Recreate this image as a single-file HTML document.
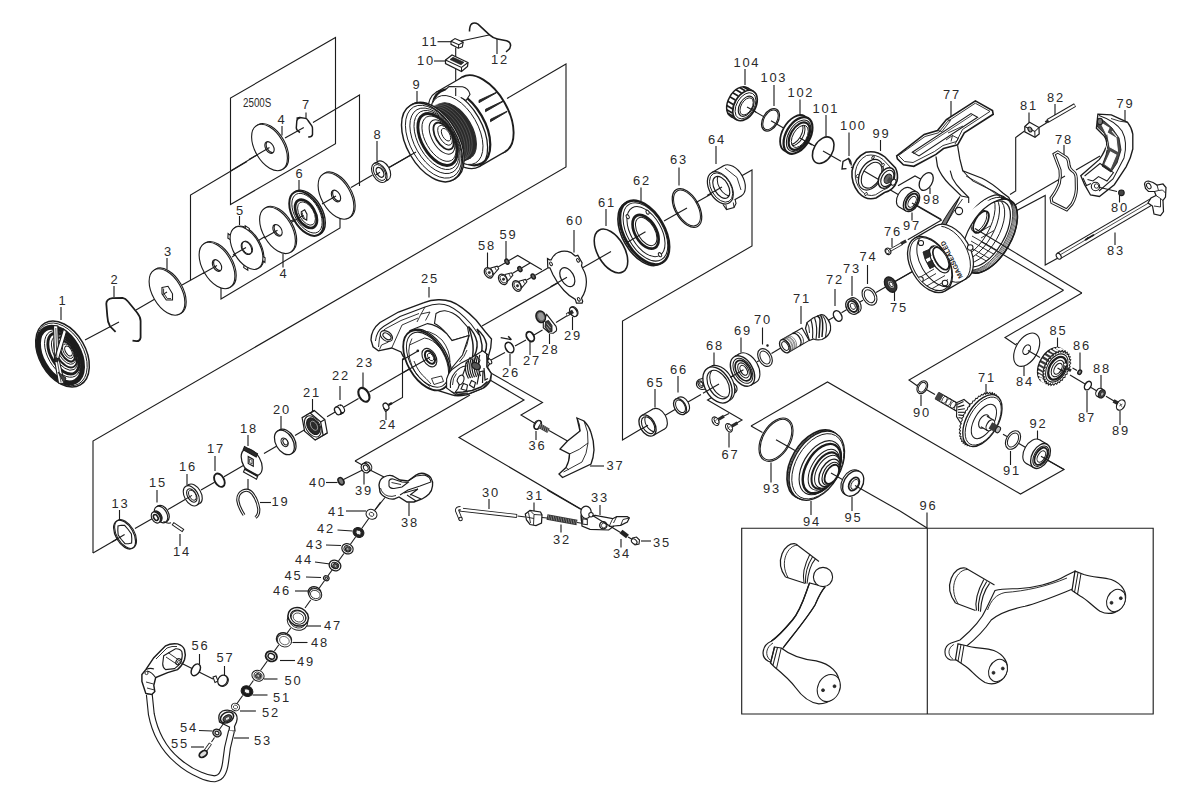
<!DOCTYPE html>
<html><head><meta charset="utf-8"><title>Parts diagram</title>
<style>
html,body{margin:0;padding:0;background:#fff;}
svg{display:block}
text{font-family:"Liberation Sans",sans-serif;fill:#2a2a2a;}
</style></head><body>
<svg width="1200" height="808" viewBox="0 0 1200 808">
<rect width="1200" height="808" fill="#fff"/>
<path d="M335.5,37.5 L335.5,143.8 L230.5,204.5 L230.5,98.0 Z" fill="none" stroke="#1c1c1c" stroke-width="1.12" />
<path d="M190.5,280.0 L190.5,195.0 L247.0,161.5" fill="none" stroke="#1c1c1c" stroke-width="1.12" />
<path d="M313.0,122.5 L359.5,95.0 L359.5,186.0" fill="none" stroke="#1c1c1c" stroke-width="1.12" />
<path d="M221.0,287.5 L221.0,299.0 L340.0,228.0 L340.0,210.0" fill="none" stroke="#1c1c1c" stroke-width="1.12" />
<path d="M93.0,553.0 L93.0,441.0 L566.0,167.0 L566.0,64.0 L507.0,98.5" fill="none" stroke="#1c1c1c" stroke-width="1.12" />
<path d="M482.0,326.0 L567.5,277.5" fill="none" stroke="#1c1c1c" stroke-width="1.12" />
<path d="M736.0,179.0 L752.0,170.0 L752.0,246.0 L622.5,321.0 L622.5,440.0 L641.0,429.0" fill="none" stroke="#1c1c1c" stroke-width="1.12" />
<path d="M490.0,372.5 L542.5,402.5 L521.0,415.0 L536.0,424.0" fill="none" stroke="#1c1c1c" stroke-width="1.12" />
<path d="M490.0,380.0 L524.0,400.0 L459.0,437.5 L582.5,510.0" fill="none" stroke="#1c1c1c" stroke-width="1.12" />
<path d="M355.0,461.0 L470.0,395.0" fill="none" stroke="#1c1c1c" stroke-width="1.12" />
<path d="M355.0,461.0 L364.0,466.0" fill="none" stroke="#1c1c1c" stroke-width="1.12" />
<path d="M1063.5,290.2 L909.0,380.0 L917.5,386.0" fill="none" stroke="#1c1c1c" stroke-width="1.12" />
<path d="M1081.9,293.0 L1005.0,337.5 L1016.0,345.0" fill="none" stroke="#1c1c1c" stroke-width="1.12" />
<path d="M751.0,426.0 L827.5,382.0 L1020.5,494.0 L1064.0,469.5 L1040.0,456.0" fill="none" stroke="#1c1c1c" stroke-width="1.12" />
<path d="M751.0,426.0 L762.5,432.5" fill="none" stroke="#1c1c1c" stroke-width="1.12" />
<path d="M741.7,528.3 L1153.2,528.3 L1153.2,714.0 L741.7,714.0 Z" fill="none" stroke="#1c1c1c" stroke-width="1.12" />
<path d="M927.3,528.3 L927.3,714.0" fill="none" stroke="#1c1c1c" stroke-width="1.12" />
<path d="M1024.5,131.0 L1015.7,137.5 L1015.7,191.0 L1010.0,194.5" fill="none" stroke="#1c1c1c" stroke-width="1.12" />
<path d="M1015.0,205.0 L1065.0,176.0" fill="none" stroke="#1c1c1c" stroke-width="1.12" />
<path d="M1076.0,170.0 L1100.0,156.0" fill="none" stroke="#1c1c1c" stroke-width="1.12" />
<path d="M1016.0,211.0 L1045.2,195.5 L1045.2,265.1 L1058.0,257.9" fill="none" stroke="#1c1c1c" stroke-width="1.12" />
<path d="M391.0,404.0 L402.5,397.5 L402.5,359.0 L417.5,351.0" fill="none" stroke="#1c1c1c" stroke-width="1.12" />
<path d="M713.5,396.5 L707.5,400.0 L742.0,420.0 L736.0,423.5" fill="none" stroke="#1c1c1c" stroke-width="1.12" />
<path d="M724.0,416.0 L729.0,413.5" fill="none" stroke="#1c1c1c" stroke-width="1.12" />
<text x="62.9" y="305.0" font-size="12.9" letter-spacing="1.75" text-anchor="middle">1</text>
<text x="114.9" y="284.0" font-size="12.9" letter-spacing="1.75" text-anchor="middle">2</text>
<text x="168.4" y="256.0" font-size="12.9" letter-spacing="1.75" text-anchor="middle">3</text>
<text x="283.9" y="278.0" font-size="12.9" letter-spacing="1.75" text-anchor="middle">4</text>
<text x="240.4" y="214.5" font-size="12.9" letter-spacing="1.75" text-anchor="middle">5</text>
<text x="299.9" y="178.0" font-size="12.9" letter-spacing="1.75" text-anchor="middle">6</text>
<text x="306.4" y="109.0" font-size="12.9" letter-spacing="1.75" text-anchor="middle">7</text>
<text x="281.9" y="124.0" font-size="12.9" letter-spacing="1.75" text-anchor="middle">4</text>
<text x="377.9" y="138.5" font-size="12.9" letter-spacing="1.75" text-anchor="middle">8</text>
<text x="416.9" y="89.0" font-size="12.9" letter-spacing="1.75" text-anchor="middle">9</text>
<text x="425.9" y="65.0" font-size="12.9" letter-spacing="1.75" text-anchor="middle">10</text>
<text x="429.9" y="46.0" font-size="12.9" letter-spacing="1.75" text-anchor="middle">11</text>
<text x="499.9" y="64.0" font-size="12.9" letter-spacing="1.75" text-anchor="middle">12</text>
<text x="120.4" y="508.0" font-size="12.9" letter-spacing="1.75" text-anchor="middle">13</text>
<text x="181.9" y="556.0" font-size="12.9" letter-spacing="1.75" text-anchor="middle">14</text>
<text x="157.9" y="487.0" font-size="12.9" letter-spacing="1.75" text-anchor="middle">15</text>
<text x="187.9" y="471.0" font-size="12.9" letter-spacing="1.75" text-anchor="middle">16</text>
<text x="215.9" y="453.0" font-size="12.9" letter-spacing="1.75" text-anchor="middle">17</text>
<text x="248.9" y="433.0" font-size="12.9" letter-spacing="1.75" text-anchor="middle">18</text>
<text x="280.4" y="506.0" font-size="12.9" letter-spacing="1.75" text-anchor="middle">19</text>
<text x="281.9" y="414.0" font-size="12.9" letter-spacing="1.75" text-anchor="middle">20</text>
<text x="311.9" y="396.5" font-size="12.9" letter-spacing="1.75" text-anchor="middle">21</text>
<text x="340.9" y="380.0" font-size="12.9" letter-spacing="1.75" text-anchor="middle">22</text>
<text x="364.9" y="367.0" font-size="12.9" letter-spacing="1.75" text-anchor="middle">23</text>
<text x="387.9" y="429.0" font-size="12.9" letter-spacing="1.75" text-anchor="middle">24</text>
<text x="429.9" y="283.0" font-size="12.9" letter-spacing="1.75" text-anchor="middle">25</text>
<text x="510.9" y="377.0" font-size="12.9" letter-spacing="1.75" text-anchor="middle">26</text>
<text x="531.9" y="365.0" font-size="12.9" letter-spacing="1.75" text-anchor="middle">27</text>
<text x="550.4" y="354.0" font-size="12.9" letter-spacing="1.75" text-anchor="middle">28</text>
<text x="572.9" y="340.0" font-size="12.9" letter-spacing="1.75" text-anchor="middle">29</text>
<text x="490.9" y="496.5" font-size="12.9" letter-spacing="1.75" text-anchor="middle">30</text>
<text x="534.9" y="500.0" font-size="12.9" letter-spacing="1.75" text-anchor="middle">31</text>
<text x="561.9" y="544.0" font-size="12.9" letter-spacing="1.75" text-anchor="middle">32</text>
<text x="599.9" y="502.0" font-size="12.9" letter-spacing="1.75" text-anchor="middle">33</text>
<text x="621.9" y="558.0" font-size="12.9" letter-spacing="1.75" text-anchor="middle">34</text>
<text x="661.9" y="546.5" font-size="12.9" letter-spacing="1.75" text-anchor="middle">35</text>
<text x="537.4" y="450.0" font-size="12.9" letter-spacing="1.75" text-anchor="middle">36</text>
<text x="615.4" y="470.0" font-size="12.9" letter-spacing="1.75" text-anchor="middle">37</text>
<text x="409.9" y="527.0" font-size="12.9" letter-spacing="1.75" text-anchor="middle">38</text>
<text x="363.9" y="495.0" font-size="12.9" letter-spacing="1.75" text-anchor="middle">39</text>
<text x="317.9" y="486.5" font-size="12.9" letter-spacing="1.75" text-anchor="middle">40</text>
<text x="336.9" y="516.0" font-size="12.9" letter-spacing="1.75" text-anchor="middle">41</text>
<text x="325.9" y="533.0" font-size="12.9" letter-spacing="1.75" text-anchor="middle">42</text>
<text x="314.9" y="548.5" font-size="12.9" letter-spacing="1.75" text-anchor="middle">43</text>
<text x="303.9" y="564.0" font-size="12.9" letter-spacing="1.75" text-anchor="middle">44</text>
<text x="293.4" y="580.0" font-size="12.9" letter-spacing="1.75" text-anchor="middle">45</text>
<text x="281.9" y="595.0" font-size="12.9" letter-spacing="1.75" text-anchor="middle">46</text>
<text x="332.9" y="630.0" font-size="12.9" letter-spacing="1.75" text-anchor="middle">47</text>
<text x="319.9" y="647.0" font-size="12.9" letter-spacing="1.75" text-anchor="middle">48</text>
<text x="305.9" y="666.0" font-size="12.9" letter-spacing="1.75" text-anchor="middle">49</text>
<text x="293.4" y="685.0" font-size="12.9" letter-spacing="1.75" text-anchor="middle">50</text>
<text x="281.9" y="701.5" font-size="12.9" letter-spacing="1.75" text-anchor="middle">51</text>
<text x="270.9" y="717.0" font-size="12.9" letter-spacing="1.75" text-anchor="middle">52</text>
<text x="262.9" y="745.0" font-size="12.9" letter-spacing="1.75" text-anchor="middle">53</text>
<text x="188.9" y="732.0" font-size="12.9" letter-spacing="1.75" text-anchor="middle">54</text>
<text x="179.9" y="747.5" font-size="12.9" letter-spacing="1.75" text-anchor="middle">55</text>
<text x="200.4" y="650.0" font-size="12.9" letter-spacing="1.75" text-anchor="middle">56</text>
<text x="225.4" y="662.0" font-size="12.9" letter-spacing="1.75" text-anchor="middle">57</text>
<text x="486.9" y="250.0" font-size="12.9" letter-spacing="1.75" text-anchor="middle">58</text>
<text x="508.4" y="239.0" font-size="12.9" letter-spacing="1.75" text-anchor="middle">59</text>
<text x="574.9" y="225.0" font-size="12.9" letter-spacing="1.75" text-anchor="middle">60</text>
<text x="606.9" y="206.5" font-size="12.9" letter-spacing="1.75" text-anchor="middle">61</text>
<text x="641.9" y="185.0" font-size="12.9" letter-spacing="1.75" text-anchor="middle">62</text>
<text x="678.9" y="164.0" font-size="12.9" letter-spacing="1.75" text-anchor="middle">63</text>
<text x="716.9" y="143.5" font-size="12.9" letter-spacing="1.75" text-anchor="middle">64</text>
<text x="655.4" y="387.0" font-size="12.9" letter-spacing="1.75" text-anchor="middle">65</text>
<text x="678.9" y="374.0" font-size="12.9" letter-spacing="1.75" text-anchor="middle">66</text>
<text x="730.4" y="458.5" font-size="12.9" letter-spacing="1.75" text-anchor="middle">67</text>
<text x="714.9" y="350.0" font-size="12.9" letter-spacing="1.75" text-anchor="middle">68</text>
<text x="742.9" y="335.0" font-size="12.9" letter-spacing="1.75" text-anchor="middle">69</text>
<text x="762.9" y="324.0" font-size="12.9" letter-spacing="1.75" text-anchor="middle">70</text>
<text x="801.9" y="303.0" font-size="12.9" letter-spacing="1.75" text-anchor="middle">71</text>
<text x="834.9" y="284.0" font-size="12.9" letter-spacing="1.75" text-anchor="middle">72</text>
<text x="851.9" y="273.0" font-size="12.9" letter-spacing="1.75" text-anchor="middle">73</text>
<text x="868.4" y="261.0" font-size="12.9" letter-spacing="1.75" text-anchor="middle">74</text>
<text x="898.9" y="311.5" font-size="12.9" letter-spacing="1.75" text-anchor="middle">75</text>
<text x="892.9" y="235.5" font-size="12.9" letter-spacing="1.75" text-anchor="middle">76</text>
<text x="951.9" y="99.0" font-size="12.9" letter-spacing="1.75" text-anchor="middle">77</text>
<text x="1063.9" y="143.5" font-size="12.9" letter-spacing="1.75" text-anchor="middle">78</text>
<text x="1125.4" y="108.0" font-size="12.9" letter-spacing="1.75" text-anchor="middle">79</text>
<text x="1119.9" y="212.0" font-size="12.9" letter-spacing="1.75" text-anchor="middle">80</text>
<text x="1028.9" y="110.0" font-size="12.9" letter-spacing="1.75" text-anchor="middle">81</text>
<text x="1055.9" y="101.5" font-size="12.9" letter-spacing="1.75" text-anchor="middle">82</text>
<text x="1115.9" y="255.0" font-size="12.9" letter-spacing="1.75" text-anchor="middle">83</text>
<text x="1024.9" y="386.0" font-size="12.9" letter-spacing="1.75" text-anchor="middle">84</text>
<text x="1058.4" y="335.0" font-size="12.9" letter-spacing="1.75" text-anchor="middle">85</text>
<text x="1081.9" y="349.5" font-size="12.9" letter-spacing="1.75" text-anchor="middle">86</text>
<text x="1086.9" y="422.0" font-size="12.9" letter-spacing="1.75" text-anchor="middle">87</text>
<text x="1101.9" y="373.0" font-size="12.9" letter-spacing="1.75" text-anchor="middle">88</text>
<text x="1120.9" y="435.0" font-size="12.9" letter-spacing="1.75" text-anchor="middle">89</text>
<text x="921.9" y="416.5" font-size="12.9" letter-spacing="1.75" text-anchor="middle">90</text>
<text x="986.9" y="382.0" font-size="12.9" letter-spacing="1.75" text-anchor="middle">71</text>
<text x="1011.9" y="475.0" font-size="12.9" letter-spacing="1.75" text-anchor="middle">91</text>
<text x="1038.4" y="428.0" font-size="12.9" letter-spacing="1.75" text-anchor="middle">92</text>
<text x="771.9" y="493.0" font-size="12.9" letter-spacing="1.75" text-anchor="middle">93</text>
<text x="811.9" y="526.0" font-size="12.9" letter-spacing="1.75" text-anchor="middle">94</text>
<text x="853.4" y="521.5" font-size="12.9" letter-spacing="1.75" text-anchor="middle">95</text>
<text x="928.4" y="510.0" font-size="12.9" letter-spacing="1.75" text-anchor="middle">96</text>
<text x="911.9" y="229.5" font-size="12.9" letter-spacing="1.75" text-anchor="middle">97</text>
<text x="931.9" y="204.0" font-size="12.9" letter-spacing="1.75" text-anchor="middle">98</text>
<text x="881.4" y="138.0" font-size="12.9" letter-spacing="1.75" text-anchor="middle">99</text>
<text x="853.4" y="130.0" font-size="12.9" letter-spacing="1.75" text-anchor="middle">100</text>
<text x="825.9" y="113.0" font-size="12.9" letter-spacing="1.75" text-anchor="middle">101</text>
<text x="800.9" y="97.0" font-size="12.9" letter-spacing="1.75" text-anchor="middle">102</text>
<text x="773.9" y="82.0" font-size="12.9" letter-spacing="1.75" text-anchor="middle">103</text>
<text x="746.9" y="66.5" font-size="12.9" letter-spacing="1.75" text-anchor="middle">104</text>
<text x="243" y="107.3" font-size="12" textLength="28.3" lengthAdjust="spacingAndGlyphs">2500S</text>
<path d="M61.0,307.0 L61.0,320.0" fill="none" stroke="#1c1c1c" stroke-width="1.12" />
<path d="M114.0,286.0 L114.0,297.0" fill="none" stroke="#1c1c1c" stroke-width="1.12" />
<path d="M167.0,258.0 L167.0,269.5" fill="none" stroke="#1c1c1c" stroke-width="1.12" />
<path d="M283.0,254.0 L283.0,267.5" fill="none" stroke="#1c1c1c" stroke-width="1.12" />
<path d="M239.5,216.0 L239.5,225.0" fill="none" stroke="#1c1c1c" stroke-width="1.12" />
<path d="M299.0,180.0 L299.0,191.0" fill="none" stroke="#1c1c1c" stroke-width="1.12" />
<path d="M306.0,112.5 L306.0,119.0" fill="none" stroke="#1c1c1c" stroke-width="1.12" />
<path d="M282.0,126.0 L282.0,135.5" fill="none" stroke="#1c1c1c" stroke-width="1.12" />
<path d="M377.0,141.0 L377.0,161.0" fill="none" stroke="#1c1c1c" stroke-width="1.12" />
<path d="M417.0,91.0 L417.0,104.0" fill="none" stroke="#1c1c1c" stroke-width="1.12" />
<path d="M437.5,41.7 L452.5,41.7" fill="none" stroke="#1c1c1c" stroke-width="1.12" />
<path d="M434.0,61.0 L446.0,61.0" fill="none" stroke="#1c1c1c" stroke-width="1.12" />
<path d="M497.0,39.0 L497.0,54.0" fill="none" stroke="#1c1c1c" stroke-width="1.12" />
<path d="M461.0,41.0 L489.0,35.0" fill="none" stroke="#1c1c1c" stroke-width="1.12" />
<path d="M455.7,47.5 L455.7,96.0" fill="none" stroke="#1c1c1c" stroke-width="1.12" />
<path d="M119.5,510.0 L119.5,521.0" fill="none" stroke="#1c1c1c" stroke-width="1.12" />
<path d="M180.0,534.0 L180.0,546.0" fill="none" stroke="#1c1c1c" stroke-width="1.12" />
<path d="M157.0,490.0 L157.0,502.5" fill="none" stroke="#1c1c1c" stroke-width="1.12" />
<path d="M187.0,474.0 L187.0,485.0" fill="none" stroke="#1c1c1c" stroke-width="1.12" />
<path d="M215.0,456.0 L215.0,471.0" fill="none" stroke="#1c1c1c" stroke-width="1.12" />
<path d="M248.0,435.0 L248.0,446.0" fill="none" stroke="#1c1c1c" stroke-width="1.12" />
<path d="M260.0,502.5 L271.0,502.5" fill="none" stroke="#1c1c1c" stroke-width="1.12" />
<path d="M281.0,416.0 L281.0,429.0" fill="none" stroke="#1c1c1c" stroke-width="1.12" />
<path d="M312.5,399.0 L312.5,411.0" fill="none" stroke="#1c1c1c" stroke-width="1.12" />
<path d="M340.0,386.0 L340.0,400.0" fill="none" stroke="#1c1c1c" stroke-width="1.12" />
<path d="M363.0,372.5 L363.0,387.5" fill="none" stroke="#1c1c1c" stroke-width="1.12" />
<path d="M386.0,411.0 L386.0,420.0" fill="none" stroke="#1c1c1c" stroke-width="1.12" />
<path d="M429.0,287.0 L429.0,297.5" fill="none" stroke="#1c1c1c" stroke-width="1.12" />
<path d="M510.0,354.0 L510.0,366.0" fill="none" stroke="#1c1c1c" stroke-width="1.12" />
<path d="M530.0,341.0 L530.0,355.0" fill="none" stroke="#1c1c1c" stroke-width="1.12" />
<path d="M549.5,334.0 L549.5,344.0" fill="none" stroke="#1c1c1c" stroke-width="1.12" />
<path d="M572.5,317.0 L572.5,330.0" fill="none" stroke="#1c1c1c" stroke-width="1.12" />
<path d="M489.0,499.0 L489.0,509.0" fill="none" stroke="#1c1c1c" stroke-width="1.12" />
<path d="M534.0,502.5 L534.0,511.0" fill="none" stroke="#1c1c1c" stroke-width="1.12" />
<path d="M561.0,524.5 L561.0,532.5" fill="none" stroke="#1c1c1c" stroke-width="1.12" />
<path d="M600.0,505.0 L600.0,515.0" fill="none" stroke="#1c1c1c" stroke-width="1.12" />
<path d="M621.0,539.0 L621.0,547.5" fill="none" stroke="#1c1c1c" stroke-width="1.12" />
<path d="M641.0,541.0 L651.0,541.0" fill="none" stroke="#1c1c1c" stroke-width="1.12" />
<path d="M536.0,431.0 L536.0,440.0" fill="none" stroke="#1c1c1c" stroke-width="1.12" />
<path d="M590.0,466.0 L604.0,466.0" fill="none" stroke="#1c1c1c" stroke-width="1.12" />
<path d="M409.0,502.5 L409.0,516.0" fill="none" stroke="#1c1c1c" stroke-width="1.12" />
<path d="M364.0,472.5 L364.0,484.5" fill="none" stroke="#1c1c1c" stroke-width="1.12" />
<path d="M326.0,482.5 L337.5,482.5" fill="none" stroke="#1c1c1c" stroke-width="1.12" />
<path d="M346.0,511.0 L366.0,511.0" fill="none" stroke="#1c1c1c" stroke-width="1.12" />
<path d="M337.5,530.0 L352.5,531.0" fill="none" stroke="#1c1c1c" stroke-width="1.12" />
<path d="M326.0,545.0 L341.0,545.5" fill="none" stroke="#1c1c1c" stroke-width="1.12" />
<path d="M315.0,562.0 L330.0,564.0" fill="none" stroke="#1c1c1c" stroke-width="1.12" />
<path d="M306.0,577.0 L321.0,577.5" fill="none" stroke="#1c1c1c" stroke-width="1.12" />
<path d="M295.0,591.0 L309.0,591.0" fill="none" stroke="#1c1c1c" stroke-width="1.12" />
<path d="M305.0,626.0 L321.0,626.0" fill="none" stroke="#1c1c1c" stroke-width="1.12" />
<path d="M292.5,642.5 L307.5,642.5" fill="none" stroke="#1c1c1c" stroke-width="1.12" />
<path d="M280.0,660.5 L295.0,660.5" fill="none" stroke="#1c1c1c" stroke-width="1.12" />
<path d="M264.0,679.0 L277.5,679.0" fill="none" stroke="#1c1c1c" stroke-width="1.12" />
<path d="M252.5,695.0 L267.5,695.0" fill="none" stroke="#1c1c1c" stroke-width="1.12" />
<path d="M240.0,711.0 L256.0,711.0" fill="none" stroke="#1c1c1c" stroke-width="1.12" />
<path d="M234.0,738.0 L249.0,738.0" fill="none" stroke="#1c1c1c" stroke-width="1.12" />
<path d="M199.0,730.5 L212.5,731.0" fill="none" stroke="#1c1c1c" stroke-width="1.12" />
<path d="M191.0,747.0 L204.0,747.0" fill="none" stroke="#1c1c1c" stroke-width="1.12" />
<path d="M199.5,654.0 L199.5,664.0" fill="none" stroke="#1c1c1c" stroke-width="1.12" />
<path d="M224.5,666.0 L224.5,677.0" fill="none" stroke="#1c1c1c" stroke-width="1.12" />
<path d="M487.5,252.5 L487.5,269.0" fill="none" stroke="#1c1c1c" stroke-width="1.12" />
<path d="M506.0,241.0 L506.0,259.0" fill="none" stroke="#1c1c1c" stroke-width="1.12" />
<path d="M574.0,230.0 L574.0,252.5" fill="none" stroke="#1c1c1c" stroke-width="1.12" />
<path d="M606.0,209.0 L606.0,226.0" fill="none" stroke="#1c1c1c" stroke-width="1.12" />
<path d="M641.0,187.5 L641.0,201.0" fill="none" stroke="#1c1c1c" stroke-width="1.12" />
<path d="M679.0,167.5 L679.0,185.5" fill="none" stroke="#1c1c1c" stroke-width="1.12" />
<path d="M716.0,146.0 L716.0,164.0" fill="none" stroke="#1c1c1c" stroke-width="1.12" />
<path d="M655.0,389.0 L655.0,407.5" fill="none" stroke="#1c1c1c" stroke-width="1.12" />
<path d="M678.0,376.0 L678.0,392.5" fill="none" stroke="#1c1c1c" stroke-width="1.12" />
<path d="M729.0,432.5 L729.0,447.5" fill="none" stroke="#1c1c1c" stroke-width="1.12" />
<path d="M714.0,352.5 L714.0,366.0" fill="none" stroke="#1c1c1c" stroke-width="1.12" />
<path d="M741.0,337.5 L741.0,352.5" fill="none" stroke="#1c1c1c" stroke-width="1.12" />
<path d="M762.5,327.5 L762.5,344.5" fill="none" stroke="#1c1c1c" stroke-width="1.12" />
<path d="M801.0,306.0 L801.0,324.0" fill="none" stroke="#1c1c1c" stroke-width="1.12" />
<path d="M835.0,289.0 L835.0,306.0" fill="none" stroke="#1c1c1c" stroke-width="1.12" />
<path d="M852.0,276.0 L852.0,296.0" fill="none" stroke="#1c1c1c" stroke-width="1.12" />
<path d="M867.5,265.0 L867.5,284.0" fill="none" stroke="#1c1c1c" stroke-width="1.12" />
<path d="M894.5,291.0 L894.5,301.0" fill="none" stroke="#1c1c1c" stroke-width="1.12" />
<path d="M892.0,238.0 L892.0,247.0" fill="none" stroke="#1c1c1c" stroke-width="1.12" />
<path d="M951.0,101.0 L951.0,124.0" fill="none" stroke="#1c1c1c" stroke-width="1.12" />
<path d="M1064.0,145.0 L1064.0,155.0" fill="none" stroke="#1c1c1c" stroke-width="1.12" />
<path d="M1125.0,110.0 L1125.0,121.0" fill="none" stroke="#1c1c1c" stroke-width="1.12" />
<path d="M1119.5,195.0 L1119.5,202.5" fill="none" stroke="#1c1c1c" stroke-width="1.12" />
<path d="M1029.0,112.5 L1029.0,122.5" fill="none" stroke="#1c1c1c" stroke-width="1.12" />
<path d="M1055.0,104.0 L1055.0,116.0" fill="none" stroke="#1c1c1c" stroke-width="1.12" />
<path d="M1115.0,232.5 L1115.0,245.0" fill="none" stroke="#1c1c1c" stroke-width="1.12" />
<path d="M1024.0,366.0 L1024.0,376.0" fill="none" stroke="#1c1c1c" stroke-width="1.12" />
<path d="M1057.5,337.5 L1057.5,349.0" fill="none" stroke="#1c1c1c" stroke-width="1.12" />
<path d="M1080.0,352.5 L1080.0,370.0" fill="none" stroke="#1c1c1c" stroke-width="1.12" />
<path d="M1087.0,391.0 L1087.0,412.5" fill="none" stroke="#1c1c1c" stroke-width="1.12" />
<path d="M1101.0,375.0 L1101.0,389.0" fill="none" stroke="#1c1c1c" stroke-width="1.12" />
<path d="M1120.0,411.0 L1120.0,425.0" fill="none" stroke="#1c1c1c" stroke-width="1.12" />
<path d="M921.0,395.0 L921.0,406.0" fill="none" stroke="#1c1c1c" stroke-width="1.12" />
<path d="M986.0,384.0 L986.0,394.0" fill="none" stroke="#1c1c1c" stroke-width="1.12" />
<path d="M1010.5,451.0 L1010.5,465.0" fill="none" stroke="#1c1c1c" stroke-width="1.12" />
<path d="M1037.5,430.5 L1037.5,440.0" fill="none" stroke="#1c1c1c" stroke-width="1.12" />
<path d="M771.0,462.5 L771.0,482.5" fill="none" stroke="#1c1c1c" stroke-width="1.12" />
<path d="M811.0,501.0 L811.0,515.0" fill="none" stroke="#1c1c1c" stroke-width="1.12" />
<path d="M852.0,497.0 L852.0,511.0" fill="none" stroke="#1c1c1c" stroke-width="1.12" />
<path d="M927.0,512.5 L927.0,528.0" fill="none" stroke="#1c1c1c" stroke-width="1.12" />
<path d="M912.0,212.5 L912.0,220.5" fill="none" stroke="#1c1c1c" stroke-width="1.12" />
<path d="M930.0,187.5 L930.0,194.0" fill="none" stroke="#1c1c1c" stroke-width="1.12" />
<path d="M880.5,140.0 L880.5,151.0" fill="none" stroke="#1c1c1c" stroke-width="1.12" />
<path d="M849.0,132.5 L849.0,156.0" fill="none" stroke="#1c1c1c" stroke-width="1.12" />
<path d="M826.0,115.0 L826.0,136.0" fill="none" stroke="#1c1c1c" stroke-width="1.12" />
<path d="M800.0,99.5 L800.0,116.0" fill="none" stroke="#1c1c1c" stroke-width="1.12" />
<path d="M774.0,85.0 L774.0,106.0" fill="none" stroke="#1c1c1c" stroke-width="1.12" />
<path d="M745.0,69.0 L745.0,85.0" fill="none" stroke="#1c1c1c" stroke-width="1.12" />
<path d="M85.0,340.0 L119.0,322.0" fill="none" stroke="#1c1c1c" stroke-width="1.12" />
<path d="M136.0,310.0 L167.0,292.0" fill="none" stroke="#1c1c1c" stroke-width="1.12" />
<path d="M182.0,285.0 L217.0,265.5" fill="none" stroke="#1c1c1c" stroke-width="1.12" />
<path d="M232.0,257.0 L246.0,248.0" fill="none" stroke="#1c1c1c" stroke-width="1.12" />
<path d="M257.0,241.5 L276.0,229.5" fill="none" stroke="#1c1c1c" stroke-width="1.12" />
<path d="M290.0,221.5 L306.0,213.0" fill="none" stroke="#1c1c1c" stroke-width="1.12" />
<path d="M322.0,204.0 L336.0,196.0" fill="none" stroke="#1c1c1c" stroke-width="1.12" />
<path d="M351.0,187.5 L372.5,175.0" fill="none" stroke="#1c1c1c" stroke-width="1.12" />
<path d="M389.0,167.5 L432.0,143.0" fill="none" stroke="#1c1c1c" stroke-width="1.12" />
<path d="M230.5,171.0 L269.5,147.5" fill="none" stroke="#1c1c1c" stroke-width="1.12" />
<ellipse cx="62.5" cy="354.0" rx="23.2" ry="35.6" transform="rotate(-30 62.5 354.0)" fill="white" stroke="#1c1c1c" stroke-width="1.4560000000000002"/>
<ellipse cx="61.8" cy="354.4" rx="21.8" ry="34.0" transform="rotate(-30 61.8 354.4)" fill="white" stroke="#1c1c1c" stroke-width="0.8960000000000001"/>
<ellipse cx="60.5" cy="355.1" rx="18.5" ry="30.3" transform="rotate(-30 60.5 355.1)" fill="white" stroke="#1c1c1c" stroke-width="4.928000000000001"/>
<ellipse cx="62.5" cy="354.0" rx="14.6" ry="25.5" transform="rotate(-30 62.5 354.0)" fill="white" stroke="#1c1c1c" stroke-width="0.8960000000000001"/>
<ellipse cx="63.5" cy="353.5" rx="12.6" ry="22.5" transform="rotate(-30 63.5 353.5)" fill="white" stroke="#1c1c1c" stroke-width="2.9120000000000004"/>
<ellipse cx="64.5" cy="353.0" rx="10.4" ry="19.0" transform="rotate(-30 64.5 353.0)" fill="white" stroke="#1c1c1c" stroke-width="0.8960000000000001"/>
<ellipse cx="65.5" cy="352.5" rx="9.0" ry="16.5" transform="rotate(-30 65.5 352.5)" fill="white" stroke="#1c1c1c" stroke-width="1.7920000000000003"/>
<ellipse cx="66.5" cy="352.0" rx="7.4" ry="13.5" transform="rotate(-30 66.5 352.0)" fill="white" stroke="#1c1c1c" stroke-width="0.8960000000000001"/>
<ellipse cx="67.3" cy="351.6" rx="6.0" ry="11.0" transform="rotate(-30 67.3 351.6)" fill="white" stroke="#1c1c1c" stroke-width="2.0160000000000005"/>
<ellipse cx="68.0" cy="351.2" rx="4.4" ry="8.0" transform="rotate(-30 68.0 351.2)" fill="white" stroke="#1c1c1c" stroke-width="0.8960000000000001"/>
<ellipse cx="68.5" cy="351.0" rx="3.0" ry="5.5" transform="rotate(-30 68.5 351.0)" fill="white" stroke="#1c1c1c" stroke-width="1.12"/>
<path d="M53.5,325.5 L57.8,326.0 L58.8,358.0 L64.5,383.5 L58.5,383.0 L54.5,360.0 Z" fill="white" stroke="#1c1c1c" stroke-width="1.12" />
<path d="M63.5,329.0 L66.5,331.5 L58.5,359.0 L55.0,357.0 Z" fill="white" stroke="#1c1c1c" stroke-width="1.12" />
<path d="M55.8,328.0 L56.8,357.0" fill="none" stroke="#1c1c1c" stroke-width="0.784" />
<path d="M57.5,362.0 L61.0,382.0" fill="none" stroke="#1c1c1c" stroke-width="0.784" />
<circle cx="56.5" cy="360.0" r="1.8" fill="#2a2a2a" stroke="#1c1c1c" stroke-width="1.12"/>
<path d="M58,372 L66,378 L64,383 Z" fill="#444" stroke="#1c1c1c" stroke-width="0.8960000000000001" />
<path d="M115.6,331.9 L110,326.3 Q107.5,322 107.3,316 L106.3,303.8 Q106.3,299 112.5,298.1 L122.5,297.8 Q125.5,298.2 128,301.5 L137,312.5 Q140.6,317 140.6,321 L140.6,337.5 Q140,341.3 136.5,341.2 L132.5,340.6" fill="none" stroke="#1c1c1c" stroke-width="1.7920000000000003" />
<ellipse cx="168.3" cy="291.2" rx="14.5" ry="25.5" transform="rotate(-30 168.3 291.2)" fill="white" stroke="#1c1c1c" stroke-width="1.12"/>
<ellipse cx="167.0" cy="292.0" rx="14.5" ry="25.5" transform="rotate(-30 167.0 292.0)" fill="white" stroke="#1c1c1c" stroke-width="1.12"/>
<path d="M162.0,287.5 L168.0,286.3 L172.5,293.8 L172.5,300.0 L166.3,300.0 L162.0,293.8 Z" fill="none" stroke="#1c1c1c" stroke-width="1.12" />
<path d="M163.6,288.6 L163.6,293.0 L167.3,298.6 L171.0,298.6" fill="none" stroke="#1c1c1c" stroke-width="0.8960000000000001" />
<path d="M167.0,292.0 L162.5,294.6" fill="none" stroke="#1c1c1c" stroke-width="1.0080000000000002" />
<ellipse cx="218.3" cy="264.8" rx="14.5" ry="25.5" transform="rotate(-30 218.3 264.8)" fill="white" stroke="#1c1c1c" stroke-width="1.12"/>
<ellipse cx="217.0" cy="265.5" rx="14.5" ry="25.5" transform="rotate(-30 217.0 265.5)" fill="white" stroke="#1c1c1c" stroke-width="1.12"/>
<ellipse cx="217.0" cy="265.5" rx="4.0" ry="6.3" transform="rotate(-30 217.0 265.5)" fill="white" stroke="#1c1c1c" stroke-width="1.12"/>
<clipPath id="c21702655"><ellipse cx="217" cy="265.5" rx="4" ry="6.3" transform="rotate(-30 217 265.5)"/></clipPath>
<g clip-path="url(#c21702655)">
<ellipse cx="218.3" cy="264.8" rx="4.0" ry="6.3" transform="rotate(-30 218.3 264.8)" fill="none" stroke="#1c1c1c" stroke-width="1.12"/>
</g>
<path d="M203.0,273.5 L217.0,265.5" fill="none" stroke="#1c1c1c" stroke-width="1.12" />
<ellipse cx="247.5" cy="247.4" rx="13.2" ry="23.5" transform="rotate(-30 247.5 247.4)" fill="white" stroke="#1c1c1c" stroke-width="1.12"/>
<path d="M262.7,260.7 L264.9,262.4 L265.1,257.8 L262.9,256.6" fill="white" stroke="#1c1c1c" stroke-width="1.12" />
<path d="M248.9,230.8 L249.3,228.4 L245.2,225.7 L245.3,228.4" fill="white" stroke="#1c1c1c" stroke-width="1.12" />
<path d="M230.3,235.3 L228.1,233.6 L227.9,238.2 L230.1,239.4" fill="white" stroke="#1c1c1c" stroke-width="1.12" />
<path d="M244.1,265.2 L243.7,267.6 L247.8,270.3 L247.7,267.6" fill="white" stroke="#1c1c1c" stroke-width="1.12" />
<ellipse cx="246.5" cy="248.0" rx="13.2" ry="23.5" transform="rotate(-30 246.5 248.0)" fill="white" stroke="#1c1c1c" stroke-width="1.12"/>
<ellipse cx="246.5" cy="248.0" rx="4.6" ry="7.0" transform="rotate(-30 246.5 248.0)" fill="white" stroke="#1c1c1c" stroke-width="1.12"/>
<ellipse cx="247.3" cy="247.6" rx="4.6" ry="7.0" transform="rotate(-30 247.3 247.6)" fill="none" stroke="#1c1c1c" stroke-width="0.8960000000000001"/>
<path d="M233.0,255.0 L246.0,247.5" fill="none" stroke="#1c1c1c" stroke-width="1.12" />
<ellipse cx="278.8" cy="229.6" rx="14.5" ry="25.5" transform="rotate(-30 278.8 229.6)" fill="white" stroke="#1c1c1c" stroke-width="1.12"/>
<ellipse cx="277.5" cy="230.3" rx="14.5" ry="25.5" transform="rotate(-30 277.5 230.3)" fill="white" stroke="#1c1c1c" stroke-width="1.12"/>
<ellipse cx="277.5" cy="230.3" rx="4.0" ry="6.3" transform="rotate(-30 277.5 230.3)" fill="white" stroke="#1c1c1c" stroke-width="1.12"/>
<clipPath id="c27752303"><ellipse cx="277.5" cy="230.3" rx="4" ry="6.3" transform="rotate(-30 277.5 230.3)"/></clipPath>
<g clip-path="url(#c27752303)">
<ellipse cx="278.8" cy="229.6" rx="4.0" ry="6.3" transform="rotate(-30 278.8 229.6)" fill="none" stroke="#1c1c1c" stroke-width="1.12"/>
</g>
<path d="M264.0,238.1 L277.5,230.3" fill="none" stroke="#1c1c1c" stroke-width="1.12" />
<ellipse cx="308.1" cy="212.6" rx="14.0" ry="24.5" transform="rotate(-30 308.1 212.6)" fill="white" stroke="#1c1c1c" stroke-width="1.344"/>
<ellipse cx="306.5" cy="213.5" rx="14.0" ry="24.5" transform="rotate(-30 306.5 213.5)" fill="white" stroke="#1c1c1c" stroke-width="2.0160000000000005"/>
<ellipse cx="307.0" cy="213.2" rx="12.2" ry="21.8" transform="rotate(-30 307.0 213.2)" fill="white" stroke="#1c1c1c" stroke-width="0.8960000000000001"/>
<ellipse cx="306.0" cy="213.8" rx="9.0" ry="15.5" transform="rotate(-30 306.0 213.8)" fill="white" stroke="#1c1c1c" stroke-width="2.688"/>
<ellipse cx="306.5" cy="213.5" rx="7.2" ry="12.8" transform="rotate(-30 306.5 213.5)" fill="white" stroke="#1c1c1c" stroke-width="0.8960000000000001"/>
<path d="M301.3,211.7 L304.7,209.7 L307.0,214.2 L306.7,220.0 L303.3,218.3 L301.3,214.2 Z" fill="none" stroke="#1c1c1c" stroke-width="1.12" />
<path d="M302.5,212.5 L302.5,214.8 L304.5,217.8" fill="none" stroke="#1c1c1c" stroke-width="0.784" />
<path d="M292.0,222.0 L303.5,215.3" fill="none" stroke="#1c1c1c" stroke-width="1.12" />
<ellipse cx="337.3" cy="195.2" rx="14.5" ry="25.5" transform="rotate(-30 337.3 195.2)" fill="white" stroke="#1c1c1c" stroke-width="1.12"/>
<ellipse cx="336.0" cy="196.0" rx="14.5" ry="25.5" transform="rotate(-30 336.0 196.0)" fill="white" stroke="#1c1c1c" stroke-width="1.12"/>
<ellipse cx="336.0" cy="196.0" rx="4.0" ry="6.3" transform="rotate(-30 336.0 196.0)" fill="white" stroke="#1c1c1c" stroke-width="1.12"/>
<clipPath id="c33601960"><ellipse cx="336" cy="196" rx="4" ry="6.3" transform="rotate(-30 336 196)"/></clipPath>
<g clip-path="url(#c33601960)">
<ellipse cx="337.3" cy="195.2" rx="4.0" ry="6.3" transform="rotate(-30 337.3 195.2)" fill="none" stroke="#1c1c1c" stroke-width="1.12"/>
</g>
<path d="M322.5,203.8 L336.0,196.0" fill="none" stroke="#1c1c1c" stroke-width="1.12" />
<ellipse cx="270.8" cy="146.8" rx="14.5" ry="25.5" transform="rotate(-30 270.8 146.8)" fill="white" stroke="#1c1c1c" stroke-width="1.12"/>
<ellipse cx="269.5" cy="147.5" rx="14.5" ry="25.5" transform="rotate(-30 269.5 147.5)" fill="white" stroke="#1c1c1c" stroke-width="1.12"/>
<ellipse cx="269.5" cy="147.5" rx="4.0" ry="6.3" transform="rotate(-30 269.5 147.5)" fill="white" stroke="#1c1c1c" stroke-width="1.12"/>
<clipPath id="c26951475"><ellipse cx="269.5" cy="147.5" rx="4" ry="6.3" transform="rotate(-30 269.5 147.5)"/></clipPath>
<g clip-path="url(#c26951475)">
<ellipse cx="270.8" cy="146.8" rx="4.0" ry="6.3" transform="rotate(-30 270.8 146.8)" fill="none" stroke="#1c1c1c" stroke-width="1.12"/>
</g>
<path d="M249.0,159.5 L269.5,147.5" fill="none" stroke="#1c1c1c" stroke-width="1.12" />
<path d="M300,117.5 Q297,118.5 296.8,121 L296.3,128 Q296.5,130.5 300,132.5" fill="none" stroke="#1c1c1c" stroke-width="1.4560000000000002" />
<path d="M296.5,118.3 L300,117.5 L305.5,118.4 Q307,118.8 308,120.5 L311.8,125.8 Q312.6,127 312.5,129 L312.5,134.5 Q312,137.3 308.1,136.9" fill="none" stroke="#1c1c1c" stroke-width="1.4560000000000002" />
<path d="M285.0,138.1 L303.8,127.5" fill="none" stroke="#1c1c1c" stroke-width="1.12" />
<ellipse cx="382.9" cy="170.6" rx="6.6" ry="10.6" transform="rotate(-30 382.9 170.6)" fill="white" stroke="#1c1c1c" stroke-width="1.12"/>
<path d="M374.3,163.5 L377.9,161.4" fill="none" stroke="#1c1c1c" stroke-width="1.12" />
<path d="M384.4,181.9 L388.0,179.8" fill="none" stroke="#1c1c1c" stroke-width="1.12" />
<ellipse cx="379.3" cy="172.7" rx="6.6" ry="10.6" transform="rotate(-30 379.3 172.7)" fill="white" stroke="#1c1c1c" stroke-width="1.12"/>
<ellipse cx="379.6" cy="172.5" rx="5.2" ry="8.7" transform="rotate(-30 379.6 172.5)" fill="white" stroke="#1c1c1c" stroke-width="0.8960000000000001"/>
<ellipse cx="380.0" cy="172.3" rx="3.2" ry="5.4" transform="rotate(-30 380.0 172.3)" fill="white" stroke="#1c1c1c" stroke-width="1.344"/>
<path d="M375.6,175.0 L380.0,172.3" fill="none" stroke="#1c1c1c" stroke-width="1.0080000000000002" />
<ellipse cx="483.7" cy="114.4" rx="24.0" ry="43.0" transform="rotate(-30 483.7 114.4)" fill="white" stroke="#1c1c1c" stroke-width="1.9040000000000001"/>
<path d="M436.2,92.2 L462.2,77.2 L505.2,151.6 L479.2,166.6 Z" fill="white" stroke="none" stroke-width="1.12" />
<path d="M436.2,92.2 L462.2,77.2" fill="none" stroke="#1c1c1c" stroke-width="1.2320000000000002" />
<path d="M479.2,166.6 L505.2,151.6" fill="none" stroke="#1c1c1c" stroke-width="1.2320000000000002" />
<ellipse cx="457.7" cy="129.4" rx="24.0" ry="43.0" transform="rotate(-30 457.7 129.4)" fill="white" stroke="#1c1c1c" stroke-width="1.2320000000000002"/>
<ellipse cx="461.2" cy="127.4" rx="23.5" ry="41.5" transform="rotate(-30 461.2 127.4)" fill="none" stroke="#1c1c1c" stroke-width="2.24"/>
<ellipse cx="456.7" cy="130.0" rx="21.0" ry="38.0" transform="rotate(-30 456.7 130.0)" fill="white" stroke="#1c1c1c" stroke-width="0.8960000000000001"/>
<path d="M479.0,100.3 L496.5,92.2 L496.5,92.8 L479.0,102.7 Z" fill="#2a2a2a" stroke="#1c1c1c" stroke-width="0.8960000000000001" />
<path d="M485.5,109.3 L503.5,100.7 L503.5,101.3 L485.5,111.7 Z" fill="#2a2a2a" stroke="#1c1c1c" stroke-width="0.8960000000000001" />
<path d="M490.5,119.3 L507.0,111.2 L507.0,111.8 L490.5,121.7 Z" fill="#2a2a2a" stroke="#1c1c1c" stroke-width="0.8960000000000001" />
<path d="M444.5,90.5 L449,86.5 L462.5,86.8 Q468.5,88 470,94.5 L466,100.5 L461,97.5" fill="white" stroke="#1c1c1c" stroke-width="1.12" />
<path d="M455.7,88.0 L455.7,96.0" fill="none" stroke="#1c1c1c" stroke-width="1.12" />
<ellipse cx="454.7" cy="131.1" rx="17.5" ry="31.0" transform="rotate(-30 454.7 131.1)" fill="#2a2a2a" stroke="#2a2a2a" stroke-width="1.12"/>
<path d="M416.5,115.7 L439.2,104.3 L470.2,157.9 L447.5,169.3 Z" fill="#2a2a2a" stroke="#2a2a2a" stroke-width="1.12" />
<ellipse cx="434.3" cy="141.2" rx="17.3" ry="30.7" transform="rotate(-30 434.3 141.2)" fill="none" stroke="#777" stroke-width="0.45"/>
<ellipse cx="436.7" cy="139.8" rx="17.3" ry="30.7" transform="rotate(-30 436.7 139.8)" fill="none" stroke="#777" stroke-width="0.45"/>
<ellipse cx="439.0" cy="138.4" rx="17.3" ry="30.7" transform="rotate(-30 439.0 138.4)" fill="none" stroke="#777" stroke-width="0.45"/>
<ellipse cx="441.4" cy="137.1" rx="17.3" ry="30.7" transform="rotate(-30 441.4 137.1)" fill="none" stroke="#777" stroke-width="0.45"/>
<ellipse cx="443.7" cy="135.8" rx="17.3" ry="30.7" transform="rotate(-30 443.7 135.8)" fill="none" stroke="#777" stroke-width="0.45"/>
<ellipse cx="446.0" cy="134.4" rx="17.3" ry="30.7" transform="rotate(-30 446.0 134.4)" fill="none" stroke="#777" stroke-width="0.45"/>
<ellipse cx="448.4" cy="133.1" rx="17.3" ry="30.7" transform="rotate(-30 448.4 133.1)" fill="none" stroke="#777" stroke-width="0.45"/>
<ellipse cx="450.7" cy="131.7" rx="17.3" ry="30.7" transform="rotate(-30 450.7 131.7)" fill="none" stroke="#777" stroke-width="0.45"/>
<ellipse cx="433.6" cy="141.6" rx="25.0" ry="43.0" transform="rotate(-30 433.6 141.6)" fill="white" stroke="#1c1c1c" stroke-width="1.344"/>
<ellipse cx="432.0" cy="142.5" rx="25.0" ry="43.0" transform="rotate(-30 432.0 142.5)" fill="white" stroke="#1c1c1c" stroke-width="1.4560000000000002"/>
<ellipse cx="433.5" cy="141.7" rx="22.8" ry="40.0" transform="rotate(-30 433.5 141.7)" fill="white" stroke="#1c1c1c" stroke-width="0.8960000000000001"/>
<ellipse cx="435.0" cy="140.8" rx="20.3" ry="36.0" transform="rotate(-30 435.0 140.8)" fill="white" stroke="#1c1c1c" stroke-width="0.8960000000000001"/>
<ellipse cx="436.5" cy="140.0" rx="18.0" ry="32.5" transform="rotate(-30 436.5 140.0)" fill="white" stroke="#1c1c1c" stroke-width="0.8960000000000001"/>
<ellipse cx="437.5" cy="139.5" rx="15.6" ry="28.5" transform="rotate(-30 437.5 139.5)" fill="white" stroke="#1c1c1c" stroke-width="2.9120000000000004"/>
<ellipse cx="439.0" cy="138.7" rx="13.4" ry="25.0" transform="rotate(-30 439.0 138.7)" fill="white" stroke="#1c1c1c" stroke-width="0.8960000000000001"/>
<ellipse cx="442.0" cy="136.9" rx="10.0" ry="19.0" transform="rotate(-30 442.0 136.9)" fill="white" stroke="#1c1c1c" stroke-width="1.0080000000000002"/>
<ellipse cx="443.5" cy="136.1" rx="7.8" ry="15.0" transform="rotate(-30 443.5 136.1)" fill="white" stroke="#1c1c1c" stroke-width="1.7920000000000003"/>
<ellipse cx="445.0" cy="135.3" rx="5.6" ry="11.0" transform="rotate(-30 445.0 135.3)" fill="white" stroke="#1c1c1c" stroke-width="0.8960000000000001"/>
<ellipse cx="446.0" cy="134.7" rx="3.6" ry="7.0" transform="rotate(-30 446.0 134.7)" fill="white" stroke="#1c1c1c" stroke-width="0.8960000000000001"/>
<path d="M389.0,167.5 L416.0,152.0" fill="none" stroke="#1c1c1c" stroke-width="1.12" />
<path d="M451.0,41.2 L455.0,38.6 L463.2,42.2 L462.3,46.8 L458.3,48.2 L451.0,44.3 Z" fill="white" stroke="#1c1c1c" stroke-width="1.12" />
<path d="M451.0,41.2 L458.8,44.6 L463.2,42.2" fill="none" stroke="#1c1c1c" stroke-width="1.0080000000000002" />
<path d="M458.8,44.6 L458.3,48.2" fill="none" stroke="#1c1c1c" stroke-width="1.0080000000000002" />
<path d="M445.5,60.0 L452.0,55.0 L468.0,62.5 L467.5,66.5 L461.5,71.5 L445.5,63.5 Z" fill="white" stroke="#1c1c1c" stroke-width="1.2320000000000002" />
<path d="M445.5,60.0 L461.5,67.5 L468.0,62.5" fill="none" stroke="#1c1c1c" stroke-width="1.0080000000000002" />
<path d="M461.5,67.5 L461.5,71.5" fill="none" stroke="#1c1c1c" stroke-width="1.0080000000000002" />
<path d="M450.0,59.5 L453.0,57.3 L464.0,62.3 L461.0,64.8 Z" fill="#2a2a2a" stroke="#1c1c1c" stroke-width="0.672" />
<path d="M469.5,31.5 Q469.5,26 471.5,24 Q474.5,21.8 478,24.2 L489.5,34.8 Q493,38 497.5,39 L506.5,40.8 Q510.5,42 510.6,45.5 Q510.5,49 506,51.8" fill="none" stroke="#1c1c1c" stroke-width="1.568" />
<path d="M93.0,553.0 L124.5,534.7" fill="none" stroke="#1c1c1c" stroke-width="1.12" />
<path d="M135.0,528.6 L152.0,518.7" fill="none" stroke="#1c1c1c" stroke-width="1.12" />
<path d="M168.0,509.4 L192.0,495.4" fill="none" stroke="#1c1c1c" stroke-width="1.12" />
<path d="M201.0,490.1 L214.5,482.3" fill="none" stroke="#1c1c1c" stroke-width="1.12" />
<path d="M224.0,476.8 L251.5,460.8" fill="none" stroke="#1c1c1c" stroke-width="1.12" />
<path d="M264.0,453.5 L285.0,441.3" fill="none" stroke="#1c1c1c" stroke-width="1.12" />
<path d="M295.0,435.4 L305.0,429.6" fill="none" stroke="#1c1c1c" stroke-width="1.12" />
<path d="M327.0,416.8 L336.0,411.6" fill="none" stroke="#1c1c1c" stroke-width="1.12" />
<path d="M343.5,407.2 L358.5,398.5" fill="none" stroke="#1c1c1c" stroke-width="1.12" />
<path d="M369.5,392.1 L430.0,356.9" fill="none" stroke="#1c1c1c" stroke-width="1.12" />
<ellipse cx="124.6" cy="534.6" rx="8.8" ry="15.8" transform="rotate(-30 124.6 534.6)" fill="white" stroke="#1c1c1c" stroke-width="1.2320000000000002"/>
<ellipse cx="125.6" cy="534.0" rx="8.8" ry="15.8" transform="rotate(-30 125.6 534.0)" fill="none" stroke="#1c1c1c" stroke-width="1.0080000000000002"/>
<path d="M131.6,543.1 L131.8,538.7 L131.4,534.0 L128.2,529.5 L124.6,525.4 L121.2,525.3 L118.0,525.9 L117.8,530.3 L118.2,535.0 L121.4,539.5 L125.0,543.6 L128.4,543.7 Z" fill="white" stroke="#1c1c1c" stroke-width="1.12" />
<path d="M112.0,541.9 L124.6,534.6" fill="none" stroke="#1c1c1c" stroke-width="1.12" />
<ellipse cx="162.5" cy="513.6" rx="5.8" ry="9.0" transform="rotate(-30 162.5 513.6)" fill="white" stroke="#1c1c1c" stroke-width="1.2320000000000002"/>
<ellipse cx="161.0" cy="514.5" rx="5.8" ry="9.0" transform="rotate(-30 161.0 514.5)" fill="white" stroke="#1c1c1c" stroke-width="1.12"/>
<ellipse cx="157.5" cy="516.5" rx="4.0" ry="6.0" transform="rotate(-30 157.5 516.5)" fill="#2a2a2a" stroke="#1c1c1c" stroke-width="1.12"/>
<ellipse cx="155.8" cy="517.5" rx="4.0" ry="6.0" transform="rotate(-30 155.8 517.5)" fill="white" stroke="#1c1c1c" stroke-width="1.12"/>
<ellipse cx="155.8" cy="517.5" rx="2.0" ry="3.2" transform="rotate(-30 155.8 517.5)" fill="white" stroke="#1c1c1c" stroke-width="1.568"/>
<path d="M163.5,521.5 Q168,524 171,522.8" fill="none" stroke="#1c1c1c" stroke-width="1.12" />
<path d="M172.3,524.8 L182.2,531.6 L183.7,529.4 L173.8,522.6 Z" fill="white" stroke="#1c1c1c" stroke-width="1.0080000000000002" />
<ellipse cx="194.2" cy="494.1" rx="6.8" ry="11.0" transform="rotate(-30 194.2 494.1)" fill="white" stroke="#1c1c1c" stroke-width="1.12"/>
<ellipse cx="191.3" cy="495.8" rx="6.8" ry="11.0" transform="rotate(-30 191.3 495.8)" fill="white" stroke="#1c1c1c" stroke-width="1.12"/>
<ellipse cx="191.8" cy="495.5" rx="4.3" ry="7.3" transform="rotate(-30 191.8 495.5)" fill="white" stroke="#1c1c1c" stroke-width="1.12"/>
<ellipse cx="192.4" cy="495.2" rx="3.2" ry="5.5" transform="rotate(-30 192.4 495.2)" fill="white" stroke="#1c1c1c" stroke-width="0.8960000000000001"/>
<path d="M186.0,498.9 L192.0,495.4" fill="none" stroke="#1c1c1c" stroke-width="1.0080000000000002" />
<ellipse cx="219.4" cy="480.2" rx="4.6" ry="7.2" transform="rotate(-30 219.4 480.2)" fill="white" stroke="#1c1c1c" stroke-width="1.9040000000000001"/>
<ellipse cx="251.7" cy="462.2" rx="8.8" ry="14.5" transform="rotate(-30 251.7 462.2)" fill="white" stroke="#1c1c1c" stroke-width="1.2320000000000002"/>
<path d="M243.2,449.8 L244.5,446.6 L257.5,453.8 L256.2,457.0 Z" fill="#2a2a2a" stroke="#1c1c1c" stroke-width="1.12" />
<path d="M243.5,472.0 L244.8,468.8 L257.8,476.0 L256.5,479.2 Z" fill="white" stroke="#1c1c1c" stroke-width="1.12" />
<path d="M244.8,468.8 L257.8,476.0" fill="none" stroke="#1c1c1c" stroke-width="2.24" />
<path d="M248.2,456.5 L253.3,459.4 L253.3,466.3 L248.2,463.4 Z" fill="none" stroke="#1c1c1c" stroke-width="1.12" />
<path d="M249.6,458.8 L252.0,460.2 L252.0,464.0 L249.6,462.6 Z" fill="none" stroke="#1c1c1c" stroke-width="0.784" />
<path d="M248.0,479.0 L248.0,489.5" fill="none" stroke="#1c1c1c" stroke-width="1.12" />
<path d="M244,515 Q238.5,506.5 237.8,500.5 Q237.5,493.5 243,491 Q248.5,488.5 252.5,493.5 Q257.5,500 258.8,509 Q259,515 255.5,517.5" fill="none" stroke="#1c1c1c" stroke-width="3.136" />
<path d="M244,515 Q238.5,506.5 237.8,500.5 Q237.5,493.5 243,491 Q248.5,488.5 252.5,493.5 Q257.5,500 258.8,509 Q259,515 255.5,517.5" fill="none" stroke="white" stroke-width="1.0080000000000002" />
<ellipse cx="286.1" cy="441.4" rx="8.6" ry="13.3" transform="rotate(-30 286.1 441.4)" fill="white" stroke="#1c1c1c" stroke-width="1.2320000000000002"/>
<ellipse cx="284.4" cy="442.4" rx="8.6" ry="13.3" transform="rotate(-30 284.4 442.4)" fill="white" stroke="#1c1c1c" stroke-width="1.2320000000000002"/>
<ellipse cx="284.6" cy="442.3" rx="3.1" ry="4.6" transform="rotate(-30 284.6 442.3)" fill="white" stroke="#1c1c1c" stroke-width="1.12"/>
<ellipse cx="285.4" cy="441.9" rx="2.2" ry="3.2" transform="rotate(-30 285.4 441.9)" fill="white" stroke="#1c1c1c" stroke-width="1.0080000000000002"/>
<path d="M327.3,433.0 L324.8,419.5 L314.3,410.6 L306.3,415.2 L308.8,428.7 L319.3,437.6 Z" fill="white" stroke="#1c1c1c" stroke-width="1.2320000000000002" />
<path d="M323.1,435.4 L327.3,433.0" fill="none" stroke="#1c1c1c" stroke-width="1.12" />
<path d="M320.6,421.9 L324.8,419.5" fill="none" stroke="#1c1c1c" stroke-width="1.12" />
<path d="M310.1,413.0 L314.3,410.6" fill="none" stroke="#1c1c1c" stroke-width="1.12" />
<path d="M315.1,440.0 L319.3,437.6" fill="none" stroke="#1c1c1c" stroke-width="1.12" />
<path d="M323.1,435.4 L320.6,421.9 L310.1,413.0 L302.1,417.6 L304.6,431.1 L315.1,440.0 Z" fill="white" stroke="#1c1c1c" stroke-width="1.2320000000000002" />
<ellipse cx="312.8" cy="426.4" rx="7.0" ry="11.5" transform="rotate(-30 312.8 426.4)" fill="white" stroke="#1c1c1c" stroke-width="1.0080000000000002"/>
<ellipse cx="313.2" cy="426.2" rx="5.6" ry="9.0" transform="rotate(-30 313.2 426.2)" fill="#2a2a2a" stroke="#1c1c1c" stroke-width="1.12"/>
<ellipse cx="314.0" cy="425.8" rx="3.0" ry="5.0" transform="rotate(-30 314.0 425.8)" fill="none" stroke="#bbb" stroke-width="0.672"/>
<ellipse cx="341.3" cy="408.8" rx="2.7" ry="4.2" transform="rotate(-30 341.3 408.8)" fill="white" stroke="#1c1c1c" stroke-width="1.12"/>
<path d="M337.2,407.3 L340.8,405.2" fill="none" stroke="#1c1c1c" stroke-width="1.12" />
<path d="M340.2,414.6 L343.8,412.5" fill="none" stroke="#1c1c1c" stroke-width="1.12" />
<path d="M337.6,410.8 L341.3,408.8 L339.2,405.1 L335.5,407.2 Z" fill="white" stroke="none" stroke-width="1.12" />
<ellipse cx="337.7" cy="410.9" rx="2.7" ry="4.2" transform="rotate(-30 337.7 410.9)" fill="white" stroke="#1c1c1c" stroke-width="1.344"/>
<path d="M335.6,407.3 L339.2,405.2" fill="none" stroke="#1c1c1c" stroke-width="1.12" />
<path d="M339.8,414.5 L343.4,412.4" fill="none" stroke="#1c1c1c" stroke-width="1.12" />
<ellipse cx="363.9" cy="394.8" rx="4.8" ry="7.5" transform="rotate(-30 363.9 394.8)" fill="white" stroke="#1c1c1c" stroke-width="2.128"/>
<ellipse cx="386.0" cy="406.5" rx="2.6" ry="3.6" transform="rotate(-30 386.0 406.5)" fill="white" stroke="#1c1c1c" stroke-width="1.2320000000000002"/>
<path d="M388.5,405.0 L392.0,403.0" fill="none" stroke="#1c1c1c" stroke-width="2.4640000000000004" />
<path d="M383.5,408 L385.5,411.5 L388,409.8" fill="none" stroke="#1c1c1c" stroke-width="1.0080000000000002" />
<path d="M491.0,360.0 L505.0,352.5" fill="none" stroke="#1c1c1c" stroke-width="1.12" />
<path d="M515.0,346.0 L526.0,340.0" fill="none" stroke="#1c1c1c" stroke-width="1.12" />
<path d="M534.0,335.0 L542.5,330.0" fill="none" stroke="#1c1c1c" stroke-width="1.12" />
<path d="M556.0,322.5 L567.5,315.5" fill="none" stroke="#1c1c1c" stroke-width="1.12" />
<path d="M371,340 C371,333 375,326.5 380,322.5 L398.5,312 L424,302.7 C433,299 444,299 451,301.5 C458,304 466,310 476,320 L485.5,332 L491.5,339 L490.7,348 L488,357.5 L491,361.5 L487.5,367 L491.3,373.6 L490.7,380.2 C488,385 484,388 482.6,388.3 L466.6,394.9 C460,396 455,396 452,394.9 L436,390 L403,356 L401,352 L391.7,348 L378.4,350.8 L373,346.8 Z" fill="white" stroke="#1c1c1c" stroke-width="1.344" />
<path d="M375.5,341 C376,335 379,329.5 383.5,326.5 L400,316.5 L425,307 C434,303.5 443,303.5 449,306 C456,309 463,315 471,324 L479,335" fill="none" stroke="#1c1c1c" stroke-width="1.0080000000000002" />
<path d="M378.5,347 L379.5,338 Q381,331 386,328.5 L401,320.5 L419,313.5" fill="none" stroke="#1c1c1c" stroke-width="0.8960000000000001" />
<path d="M436,313.5 Q440,310.5 445,310.8 Q453,312 459,317.5 L467.5,327 L469,335.5 L452,340.5 L446.5,333.5 Q440,326 434.5,323.5 Z" fill="white" stroke="#1c1c1c" stroke-width="1.12" />
<path d="M425,307 L421,314 L417,322 M430,312 L425.5,320.5 M421,314 L430,312" fill="none" stroke="#1c1c1c" stroke-width="0.8960000000000001" />
<path d="M468.5,326.5 Q475,333 477,342 Q478,351 472,360 Q474,349 472.5,341 Q471,333 468.5,326.5 Z" fill="white" stroke="#1c1c1c" stroke-width="1.4560000000000002" />
<path d="M477,329 Q485,336 486.5,344 Q487,353 479,362.5 Q482.5,352 482,345 Q481,337 477,329 Z" fill="white" stroke="#1c1c1c" stroke-width="1.4560000000000002" />
<path d="M463,353 Q468,345 469,336 M459.5,362 Q464.5,357 467,350" fill="none" stroke="#1c1c1c" stroke-width="0.8960000000000001" />
<ellipse cx="386.4" cy="336.1" rx="4.6" ry="6.8" transform="rotate(-55 386.4 336.1)" fill="white" stroke="#1c1c1c" stroke-width="1.12"/>
<ellipse cx="387.0" cy="336.3" rx="2.6" ry="4.6" transform="rotate(-55 387.0 336.3)" fill="white" stroke="#1c1c1c" stroke-width="1.12"/>
<path d="M379.5,349.5 L381.5,345 L388.5,342" fill="none" stroke="#1c1c1c" stroke-width="0.8960000000000001" />
<path d="M391.7,348 L402,325 L418,318" fill="none" stroke="#1c1c1c" stroke-width="0.8960000000000001" />
<path d="M410,330.5 L427.5,323.6 Q437,324.5 446.5,333.5 L452,340.5 L469,335.5 L462.5,355 L448.5,372 Z" fill="white" stroke="#1c1c1c" stroke-width="1.12" />
<path d="M416,332 Q430,328 442,340 Q450,350 450,362" fill="none" stroke="#1c1c1c" stroke-width="0.8960000000000001" />
<ellipse cx="428.0" cy="359.4" rx="19.0" ry="33.0" transform="rotate(-30 428.0 359.4)" fill="white" stroke="#1c1c1c" stroke-width="1.2320000000000002"/>
<ellipse cx="426.5" cy="360.2" rx="19.0" ry="33.0" transform="rotate(-30 426.5 360.2)" fill="white" stroke="#1c1c1c" stroke-width="1.7920000000000003"/>
<ellipse cx="427.5" cy="359.7" rx="17.0" ry="30.2" transform="rotate(-30 427.5 359.7)" fill="white" stroke="#1c1c1c" stroke-width="1.0080000000000002"/>
<path d="M412,338.5 Q405.5,350 412,366 Q417,378 430,386.5" fill="none" stroke="#1c1c1c" stroke-width="0.8960000000000001" />
<path d="M409.5,345 L424.5,338 Q433,339 440,348" fill="none" stroke="#1c1c1c" stroke-width="0.8960000000000001" />
<path d="M414,361 Q418,372 426,378.5 L431,384" fill="none" stroke="#1c1c1c" stroke-width="0.8960000000000001" />
<path d="M431.5,378.5 L441.5,376 L443.5,381.5 L434,384.5 Z" fill="none" stroke="#1c1c1c" stroke-width="0.8960000000000001" />
<ellipse cx="429.4" cy="357.6" rx="6.4" ry="10.0" transform="rotate(-30 429.4 357.6)" fill="white" stroke="#1c1c1c" stroke-width="1.12"/>
<ellipse cx="430.0" cy="357.3" rx="4.3" ry="7.0" transform="rotate(-30 430.0 357.3)" fill="white" stroke="#1c1c1c" stroke-width="2.0160000000000005"/>
<ellipse cx="430.6" cy="357.0" rx="2.4" ry="4.2" transform="rotate(-30 430.6 357.0)" fill="white" stroke="#1c1c1c" stroke-width="0.8960000000000001"/>
<path d="M402.5,373.0 L430.0,357.3" fill="none" stroke="#1c1c1c" stroke-width="1.12" />
<circle cx="417.8" cy="350.8" r="0.8" fill="#2a2a2a" stroke="#1c1c1c" stroke-width="1.12"/>
<path d="M402.5,360.0 L417.5,351.2" fill="none" stroke="#1c1c1c" stroke-width="1.12" />
<path d="M446.6,388 L446.6,379 Q449,372 452,369.5 L461.3,362.9 L472,357.5 L482.6,350.8 L488,354.8 L486.7,366.9 L491.3,373.6 L490,380.2 L482.6,388.3 L469.3,393.6 L455.9,394.9 Z" fill="white" stroke="#1c1c1c" stroke-width="1.12" />
<path d="M450.5,388 Q449.5,379 455,372.5 Q460,366.5 466,366 L462,377 L458,388.5 L455,392.5" fill="white" stroke="#1c1c1c" stroke-width="1.12" />
<path d="M452.5,385 Q452.5,378 456.5,373.5" fill="none" stroke="#1c1c1c" stroke-width="0.8960000000000001" />
<path d="M466.5,361.5 Q463.5,370.0 468.5,378.5" fill="none" stroke="#1c1c1c" stroke-width="1.2320000000000002" />
<path d="M468.7,360.4 Q465.7,369.4 470.5,378.1" fill="none" stroke="#1c1c1c" stroke-width="1.2320000000000002" />
<path d="M470.9,359.3 Q467.9,368.8 472.5,377.7" fill="none" stroke="#1c1c1c" stroke-width="1.2320000000000002" />
<path d="M473.1,358.2 Q470.1,368.2 474.5,377.3" fill="none" stroke="#1c1c1c" stroke-width="1.2320000000000002" />
<path d="M475.3,357.1 Q472.3,367.6 476.5,376.9" fill="none" stroke="#1c1c1c" stroke-width="1.2320000000000002" />
<path d="M477.5,356.0 Q474.5,367.0 478.5,376.5" fill="none" stroke="#1c1c1c" stroke-width="1.2320000000000002" />
<path d="M479.7,354.9 Q476.7,366.4 480.5,376.1" fill="none" stroke="#1c1c1c" stroke-width="1.2320000000000002" />
<path d="M466,364 L470,357.5 L474,361.5 L476,355.5 L480,360 L477.5,367.5" fill="none" stroke="#1c1c1c" stroke-width="1.0080000000000002" />
<ellipse cx="476.0" cy="366.0" rx="3.2" ry="4.6" transform="rotate(-60 476.0 366.0)" fill="#555" stroke="#1c1c1c" stroke-width="1.344"/>
<path d="M457,381 Q458,376 461.5,375 Q464.5,375.5 464,379.5 Q463,384 459.5,385 Z" fill="white" stroke="#1c1c1c" stroke-width="1.12" />
<path d="M461,389 L463.5,383.5 L467.5,385 L466.5,390.5 Z M469.5,385 L471.5,380.5 L475.5,382.5 L474,388 Z" fill="white" stroke="#1c1c1c" stroke-width="1.12" />
<path d="M477,384.5 L479.5,372 L483,371 L482.5,383 M484,368 L485,380 L488,378.5" fill="none" stroke="#1c1c1c" stroke-width="1.2320000000000002" />
<path d="M455,392.5 L463,392 L472,390.5 L481,387 L487.5,381.5" fill="none" stroke="#1c1c1c" stroke-width="1.568" />
<path d="M451,391.5 L458,394 L468,393" fill="none" stroke="#1c1c1c" stroke-width="0.8960000000000001" />
<ellipse cx="489.8" cy="361.5" rx="1.7" ry="2.6" transform="rotate(-30 489.8 361.5)" fill="white" stroke="#1c1c1c" stroke-width="1.0080000000000002"/>
<path d="M486.5,354.0 L487.0,366.0" fill="none" stroke="#1c1c1c" stroke-width="1.0080000000000002" />
<ellipse cx="509.5" cy="347.6" rx="3.8" ry="5.6" transform="rotate(-30 509.5 347.6)" fill="none" stroke="#1c1c1c" stroke-width="1.568"/>
<path d="M500.7,337.6 L511.2,339.6" fill="none" stroke="#1c1c1c" stroke-width="1.4560000000000002" />
<path d="M508.2,336.2 L511.4,339.8" fill="none" stroke="#1c1c1c" stroke-width="1.4560000000000002" />
<ellipse cx="530.3" cy="336.6" rx="3.5" ry="5.2" transform="rotate(-30 530.3 336.6)" fill="white" stroke="#1c1c1c" stroke-width="1.9040000000000001"/>
<path d="M546.7,314.3 L556,326.3 Q557,329 556.3,331 L553.3,333.3 L549.3,333 L543.3,327.7 L543.3,322 Z" fill="white" stroke="#1c1c1c" stroke-width="1.12" />
<path d="M545.6,321.5 L548.5,320.5 L552,325.5 L552,331.5 L548.5,332 L545,327 Z" fill="#3a3a3a" stroke="#1c1c1c" stroke-width="0.8960000000000001" />
<path d="M547,323.5 L550.5,328 M546.5,326.5 L549.5,330.5" fill="none" stroke="#ddd" stroke-width="0.672" />
<ellipse cx="540.7" cy="316.7" rx="4.6" ry="5.9" transform="rotate(-20 540.7 316.7)" fill="#6a6a6a" stroke="#1c1c1c" stroke-width="1.568"/>
<ellipse cx="541.1" cy="316.5" rx="3.2" ry="4.3" transform="rotate(-20 541.1 316.5)" fill="#9a9a9a" stroke="#555" stroke-width="0.56"/>
<ellipse cx="574.2" cy="311.3" rx="3.3" ry="5.1" transform="rotate(-30 574.2 311.3)" fill="white" stroke="#1c1c1c" stroke-width="1.12"/>
<ellipse cx="573.4" cy="311.8" rx="3.3" ry="5.1" transform="rotate(-30 573.4 311.8)" fill="white" stroke="#1c1c1c" stroke-width="1.344"/>
<path d="M566.6,314.9 L569.0,313.6" fill="none" stroke="#1c1c1c" stroke-width="3.3600000000000003" />
<path d="M566.9,314.8 L568.8,313.7" fill="none" stroke="white" stroke-width="1.7920000000000003" />
<path d="M568.6,313.8 L573.0,311.4" fill="none" stroke="#2a2a2a" stroke-width="3.8080000000000003" />
<path d="M490.7,268.0 L497.2,266.2 L498.7,268.6 L493.2,275.0 Z" fill="white" stroke="#1c1c1c" stroke-width="1.0080000000000002" />
<path d="M494.7,267.0 L496.3,270.4" fill="none" stroke="#1c1c1c" stroke-width="0.784" />
<ellipse cx="488.7" cy="272.8" rx="4.0" ry="5.6" transform="rotate(-30 488.7 272.8)" fill="white" stroke="#1c1c1c" stroke-width="1.2320000000000002"/>
<ellipse cx="489.2" cy="272.5" rx="2.9" ry="4.2" transform="rotate(-30 489.2 272.5)" fill="white" stroke="#1c1c1c" stroke-width="0.8960000000000001"/>
<circle cx="489.3" cy="272.6" r="1.2" fill="#2a2a2a" stroke="#1c1c1c" stroke-width="0.56"/>
<path d="M504.9,274.6 L511.4,272.8 L512.9,275.2 L507.4,281.6 Z" fill="white" stroke="#1c1c1c" stroke-width="1.0080000000000002" />
<path d="M508.9,273.6 L510.5,277.0" fill="none" stroke="#1c1c1c" stroke-width="0.784" />
<ellipse cx="502.9" cy="279.4" rx="4.0" ry="5.6" transform="rotate(-30 502.9 279.4)" fill="white" stroke="#1c1c1c" stroke-width="1.2320000000000002"/>
<ellipse cx="503.4" cy="279.1" rx="2.9" ry="4.2" transform="rotate(-30 503.4 279.1)" fill="white" stroke="#1c1c1c" stroke-width="0.8960000000000001"/>
<circle cx="503.5" cy="279.2" r="1.2" fill="#2a2a2a" stroke="#1c1c1c" stroke-width="0.56"/>
<path d="M518.9,281.2 L525.4,279.4 L526.9,281.8 L521.4,288.2 Z" fill="white" stroke="#1c1c1c" stroke-width="1.0080000000000002" />
<path d="M522.9,280.2 L524.5,283.6" fill="none" stroke="#1c1c1c" stroke-width="0.784" />
<ellipse cx="516.9" cy="286.0" rx="4.0" ry="5.6" transform="rotate(-30 516.9 286.0)" fill="white" stroke="#1c1c1c" stroke-width="1.2320000000000002"/>
<ellipse cx="517.4" cy="285.7" rx="2.9" ry="4.2" transform="rotate(-30 517.4 285.7)" fill="white" stroke="#1c1c1c" stroke-width="0.8960000000000001"/>
<circle cx="517.5" cy="285.8" r="1.2" fill="#2a2a2a" stroke="#1c1c1c" stroke-width="0.56"/>
<ellipse cx="507.0" cy="261.7" rx="1.8" ry="2.7" transform="rotate(-30 507.0 261.7)" fill="#666" stroke="#1c1c1c" stroke-width="1.4560000000000002"/>
<ellipse cx="519.9" cy="269.1" rx="1.8" ry="2.7" transform="rotate(-30 519.9 269.1)" fill="#666" stroke="#1c1c1c" stroke-width="1.4560000000000002"/>
<ellipse cx="533.2" cy="276.5" rx="1.8" ry="2.7" transform="rotate(-30 533.2 276.5)" fill="#666" stroke="#1c1c1c" stroke-width="1.4560000000000002"/>
<path d="M498.0,267.0 L505.0,263.0" fill="none" stroke="#1c1c1c" stroke-width="1.12" />
<path d="M509.0,260.5 L517.7,255.5 L541.9,269.7" fill="none" stroke="#1c1c1c" stroke-width="1.12" />
<path d="M512.3,273.5 L517.8,270.3" fill="none" stroke="#1c1c1c" stroke-width="1.12" />
<path d="M522.0,267.8 L530.1,262.9" fill="none" stroke="#1c1c1c" stroke-width="1.12" />
<path d="M526.3,280.3 L531.2,277.6" fill="none" stroke="#1c1c1c" stroke-width="1.12" />
<path d="M535.2,275.3 L547.5,268.2" fill="none" stroke="#1c1c1c" stroke-width="1.12" />
<path d="M547.5,258.6 L549.5,259.8 L551.2,259.8 Q553.5,254.5 558.5,252.3 Q564.5,250 571,252.6 L575.3,256.1 L577.8,255.3 L582.1,262.9 L581.5,265.6 L582.7,268.5 Q586.5,275 586.4,282 Q586.3,291 581.5,298.2 L582.7,301.3 L582.1,303.1 L576.5,303.1 L575.3,299.4 Q569,296 564,290.5 Q557,283 553,274.7 L549.9,267.8 L547.8,267.8 Z" fill="white" stroke="#1c1c1c" stroke-width="1.2320000000000002" />
<ellipse cx="551.0" cy="263.8" rx="1.2" ry="2.0" transform="rotate(-30 551.0 263.8)" fill="white" stroke="#1c1c1c" stroke-width="1.0080000000000002"/>
<ellipse cx="578.0" cy="260.3" rx="1.2" ry="2.0" transform="rotate(-30 578.0 260.3)" fill="white" stroke="#1c1c1c" stroke-width="1.0080000000000002"/>
<ellipse cx="578.8" cy="299.3" rx="1.2" ry="2.0" transform="rotate(-30 578.8 299.3)" fill="white" stroke="#1c1c1c" stroke-width="1.0080000000000002"/>
<ellipse cx="567.3" cy="277.1" rx="6.4" ry="10.3" transform="rotate(-30 567.3 277.1)" fill="white" stroke="#1c1c1c" stroke-width="1.2320000000000002"/>
<path d="M550.5,286.8 L567.0,277.3" fill="none" stroke="#1c1c1c" stroke-width="1.12" />
<path d="M582.7,267.8 L611.0,251.5" fill="none" stroke="#1c1c1c" stroke-width="1.12" />
<ellipse cx="611.0" cy="251.0" rx="13.5" ry="24.0" transform="rotate(-30 611.0 251.0)" fill="none" stroke="#1c1c1c" stroke-width="1.568"/>
<ellipse cx="642.5" cy="233.6" rx="20.0" ry="35.0" transform="rotate(-30 642.5 233.6)" fill="white" stroke="#1c1c1c" stroke-width="1.568"/>
<ellipse cx="643.6" cy="233.0" rx="20.0" ry="35.0" transform="rotate(-30 643.6 233.0)" fill="white" stroke="#1c1c1c" stroke-width="0.8960000000000001"/>
<ellipse cx="644.6" cy="232.4" rx="20.0" ry="35.0" transform="rotate(-30 644.6 232.4)" fill="white" stroke="#1c1c1c" stroke-width="2.4640000000000004"/>
<ellipse cx="645.4" cy="231.9" rx="18.0" ry="32.0" transform="rotate(-30 645.4 231.9)" fill="white" stroke="#1c1c1c" stroke-width="1.0080000000000002"/>
<ellipse cx="646.0" cy="231.6" rx="15.2" ry="27.5" transform="rotate(-30 646.0 231.6)" fill="white" stroke="#1c1c1c" stroke-width="1.0080000000000002"/>
<ellipse cx="645.6" cy="231.8" rx="10.6" ry="18.5" transform="rotate(-30 645.6 231.8)" fill="white" stroke="#1c1c1c" stroke-width="2.688"/>
<ellipse cx="646.2" cy="231.5" rx="8.6" ry="15.5" transform="rotate(-30 646.2 231.5)" fill="white" stroke="#1c1c1c" stroke-width="1.0080000000000002"/>
<ellipse cx="627.7" cy="216.7" rx="1.4" ry="2.2" transform="rotate(-30 627.7 216.7)" fill="white" stroke="#1c1c1c" stroke-width="1.0080000000000002"/>
<ellipse cx="647.6" cy="212.2" rx="1.4" ry="2.2" transform="rotate(-30 647.6 212.2)" fill="white" stroke="#1c1c1c" stroke-width="1.0080000000000002"/>
<ellipse cx="660.0" cy="254.7" rx="1.4" ry="2.2" transform="rotate(-30 660.0 254.7)" fill="white" stroke="#1c1c1c" stroke-width="1.0080000000000002"/>
<path d="M627.0,242.6 L645.5,231.8" fill="none" stroke="#1c1c1c" stroke-width="1.12" />
<path d="M664.0,221.0 L687.0,208.0" fill="none" stroke="#1c1c1c" stroke-width="1.12" />
<ellipse cx="687.0" cy="208.0" rx="11.8" ry="21.3" transform="rotate(-30 687.0 208.0)" fill="none" stroke="#1c1c1c" stroke-width="1.2320000000000002"/>
<ellipse cx="687.0" cy="208.0" rx="10.6" ry="19.7" transform="rotate(-30 687.0 208.0)" fill="none" stroke="#1c1c1c" stroke-width="1.0080000000000002"/>
<path d="M696.0,202.5 L722.0,188.0" fill="none" stroke="#1c1c1c" stroke-width="1.12" />
<ellipse cx="732.4" cy="180.9" rx="11.0" ry="17.5" transform="rotate(-30 732.4 180.9)" fill="white" stroke="#1c1c1c" stroke-width="1.12"/>
<path d="M711.5,172.7 L723.7,165.7 L741.2,196.1 L729.0,203.1 Z" fill="white" stroke="none" stroke-width="1.12" />
<path d="M711.5,172.7 L723.7,165.7" fill="none" stroke="#1c1c1c" stroke-width="1.12" />
<path d="M729.0,203.1 L741.2,196.1" fill="none" stroke="#1c1c1c" stroke-width="1.12" />
<path d="M725.0,168.0 L737.0,177.5" fill="none" stroke="#1c1c1c" stroke-width="0.8960000000000001" />
<path d="M737.0,177.5 L741.0,190.0" fill="none" stroke="#1c1c1c" stroke-width="0.8960000000000001" />
<path d="M723,204.5 L726.5,209.5 L734,207.5 L736,203.5 L735,199" fill="white" stroke="#1c1c1c" stroke-width="1.12" />
<path d="M734.0,207.5 L733.3,202.5" fill="none" stroke="#1c1c1c" stroke-width="0.8960000000000001" />
<path d="M726.5,209.5 L726.0,205.0" fill="none" stroke="#1c1c1c" stroke-width="0.8960000000000001" />
<ellipse cx="720.3" cy="187.9" rx="11.0" ry="17.5" transform="rotate(-30 720.3 187.9)" fill="white" stroke="#1c1c1c" stroke-width="1.2320000000000002"/>
<ellipse cx="721.1" cy="187.5" rx="9.8" ry="15.9" transform="rotate(-30 721.1 187.5)" fill="white" stroke="#1c1c1c" stroke-width="0.8960000000000001"/>
<ellipse cx="721.3" cy="187.4" rx="7.0" ry="12.0" transform="rotate(-30 721.3 187.4)" fill="white" stroke="#1c1c1c" stroke-width="1.12"/>
<clipPath id="c64"><ellipse cx="721.3" cy="187.4" rx="7" ry="12" transform="rotate(-30 721.3 187.4)"/></clipPath><g clip-path="url(#c64)">
<ellipse cx="725.8" cy="184.8" rx="7.0" ry="12.0" transform="rotate(-30 725.8 184.8)" fill="none" stroke="#1c1c1c" stroke-width="1.0080000000000002"/>
</g>
<path d="M707.0,195.4 L722.0,187.0" fill="none" stroke="#1c1c1c" stroke-width="1.12" />
<path d="M747.0,106.9 L764.0,116.8" fill="none" stroke="#1c1c1c" stroke-width="1.12" />
<path d="M771.0,120.8 L783.5,128.1" fill="none" stroke="#1c1c1c" stroke-width="1.12" />
<path d="M798.0,136.5 L815.0,146.3" fill="none" stroke="#1c1c1c" stroke-width="1.12" />
<path d="M823.0,150.9 L841.0,161.3" fill="none" stroke="#1c1c1c" stroke-width="1.12" />
<path d="M851.0,167.1 L871.0,178.7" fill="none" stroke="#1c1c1c" stroke-width="1.12" />
<path d="M887.0,188.0 L899.0,194.9" fill="none" stroke="#1c1c1c" stroke-width="1.12" />
<path d="M911.0,201.9 L941.0,219.2" fill="none" stroke="#1c1c1c" stroke-width="1.12" />
<ellipse cx="738.9" cy="102.0" rx="10.5" ry="16.5" transform="rotate(30 738.9 102.0)" fill="white" stroke="#1c1c1c" stroke-width="1.4560000000000002"/>
<path d="M753.2,91.2 L747.2,87.7 L730.7,116.3 L736.8,119.8 Z" fill="white" stroke="none" stroke-width="1.12" />
<path d="M753.2,91.2 L747.2,87.7" fill="none" stroke="#1c1c1c" stroke-width="1.344" />
<path d="M736.8,119.8 L730.7,116.3" fill="none" stroke="#1c1c1c" stroke-width="1.344" />
<path d="M727.9,113.3 L733.4,116.5" fill="none" stroke="#1c1c1c" stroke-width="1.6800000000000002" />
<path d="M726.8,109.8 L732.3,113.0" fill="none" stroke="#1c1c1c" stroke-width="1.6800000000000002" />
<path d="M726.8,105.6 L732.3,108.8" fill="none" stroke="#1c1c1c" stroke-width="1.6800000000000002" />
<path d="M727.8,101.2 L733.3,104.4" fill="none" stroke="#1c1c1c" stroke-width="1.6800000000000002" />
<path d="M729.8,96.8 L735.3,100.0" fill="none" stroke="#1c1c1c" stroke-width="1.6800000000000002" />
<path d="M732.7,92.8 L738.2,96.0" fill="none" stroke="#1c1c1c" stroke-width="1.6800000000000002" />
<path d="M736.0,89.7 L741.5,92.9" fill="none" stroke="#1c1c1c" stroke-width="1.6800000000000002" />
<path d="M739.6,87.6 L745.1,90.8" fill="none" stroke="#1c1c1c" stroke-width="1.6800000000000002" />
<path d="M743.2,86.8 L748.7,90.0" fill="none" stroke="#1c1c1c" stroke-width="1.6800000000000002" />
<ellipse cx="745.0" cy="105.5" rx="10.5" ry="16.5" transform="rotate(30 745.0 105.5)" fill="white" stroke="#1c1c1c" stroke-width="1.6800000000000002"/>
<ellipse cx="745.5" cy="105.8" rx="8.8" ry="14.2" transform="rotate(30 745.5 105.8)" fill="white" stroke="#1c1c1c" stroke-width="0.8960000000000001"/>
<ellipse cx="746.2" cy="106.2" rx="6.6" ry="11.0" transform="rotate(30 746.2 106.2)" fill="white" stroke="#1c1c1c" stroke-width="1.12"/>
<ellipse cx="746.6" cy="106.4" rx="5.4" ry="9.4" transform="rotate(30 746.6 106.4)" fill="white" stroke="#1c1c1c" stroke-width="0.8960000000000001"/>
<path d="M747.0,106.9 L756.0,112.1" fill="none" stroke="#1c1c1c" stroke-width="1.12" />
<ellipse cx="770.5" cy="119.8" rx="7.6" ry="12.2" transform="rotate(30 770.5 119.8)" fill="none" stroke="#1c1c1c" stroke-width="1.2320000000000002"/>
<ellipse cx="770.5" cy="119.8" rx="6.4" ry="10.8" transform="rotate(30 770.5 119.8)" fill="none" stroke="#1c1c1c" stroke-width="1.0080000000000002"/>
<ellipse cx="794.5" cy="133.4" rx="12.0" ry="20.0" transform="rotate(30 794.5 133.4)" fill="white" stroke="#1c1c1c" stroke-width="1.7920000000000003"/>
<ellipse cx="798.0" cy="135.4" rx="12.0" ry="20.0" transform="rotate(30 798.0 135.4)" fill="white" stroke="#1c1c1c" stroke-width="2.24"/>
<ellipse cx="798.6" cy="135.7" rx="10.0" ry="17.2" transform="rotate(30 798.6 135.7)" fill="white" stroke="#1c1c1c" stroke-width="1.0080000000000002"/>
<ellipse cx="799.2" cy="136.1" rx="8.6" ry="15.0" transform="rotate(30 799.2 136.1)" fill="white" stroke="#1c1c1c" stroke-width="2.24"/>
<ellipse cx="799.8" cy="136.4" rx="6.8" ry="12.2" transform="rotate(30 799.8 136.4)" fill="white" stroke="#1c1c1c" stroke-width="0.8960000000000001"/>
<clipPath id="c102"><ellipse cx="799.8" cy="136.4" rx="6.8" ry="12.2" transform="rotate(30 799.8 136.4)"/></clipPath><g clip-path="url(#c102)">
<ellipse cx="796.5" cy="134.5" rx="6.8" ry="12.2" transform="rotate(30 796.5 134.5)" fill="none" stroke="#1c1c1c" stroke-width="1.0080000000000002"/>
<ellipse cx="794.5" cy="133.4" rx="6.8" ry="12.2" transform="rotate(30 794.5 133.4)" fill="none" stroke="#1c1c1c" stroke-width="1.0080000000000002"/>
</g>
<path d="M800.0,138.1 L812.0,145.1" fill="none" stroke="#1c1c1c" stroke-width="1.12" />
<ellipse cx="823.2" cy="150.2" rx="9.3" ry="14.4" transform="rotate(30 823.2 150.2)" fill="none" stroke="#1c1c1c" stroke-width="1.568"/>
<path d="M850.5,164 L848.5,158.5 L843,161.5 L842,169 L846.5,168.6" fill="none" stroke="#1c1c1c" stroke-width="1.344" />
<path d="M848.5,158.5 Q851.5,160.5 851.2,165.5" fill="none" stroke="#1c1c1c" stroke-width="1.344" />
<path d="M866,152.2 Q876,150 885,157 L895.5,168 Q898.5,174 897,181 Q894,190 884.5,192.5 L876,198 Q866,201 858.5,192.5 Q851,183 852,171 Q854,158 866,152.2 Z" fill="white" stroke="#1c1c1c" stroke-width="1.568" />
<path d="M866.5,155.5 Q875.5,153.5 883,159.5 L892.5,169.5 Q895,174.5 894,180 Q891.5,187.5 883.5,189.8 L875.5,194.8 Q867.5,197.5 861,190.5 Q854.5,182.5 855.3,172 Q857,160.5 866.5,155.5 Z" fill="none" stroke="#1c1c1c" stroke-width="0.8960000000000001" />
<ellipse cx="870.8" cy="174.8" rx="10.8" ry="16.5" transform="rotate(30 870.8 174.8)" fill="white" stroke="#1c1c1c" stroke-width="1.2320000000000002"/>
<ellipse cx="871.6" cy="175.2" rx="8.8" ry="14.0" transform="rotate(30 871.6 175.2)" fill="white" stroke="#1c1c1c" stroke-width="1.12"/>
<ellipse cx="873.0" cy="157.5" rx="1.1" ry="1.7" transform="rotate(30 873.0 157.5)" fill="white" stroke="#1c1c1c" stroke-width="0.8960000000000001"/>
<ellipse cx="857.5" cy="176.0" rx="1.1" ry="1.7" transform="rotate(30 857.5 176.0)" fill="white" stroke="#1c1c1c" stroke-width="0.8960000000000001"/>
<ellipse cx="866.0" cy="194.0" rx="1.1" ry="1.7" transform="rotate(30 866.0 194.0)" fill="white" stroke="#1c1c1c" stroke-width="0.8960000000000001"/>
<ellipse cx="883.0" cy="165.0" rx="1.1" ry="1.7" transform="rotate(30 883.0 165.0)" fill="white" stroke="#1c1c1c" stroke-width="0.8960000000000001"/>
<ellipse cx="886.5" cy="178.0" rx="7.2" ry="11.0" transform="rotate(30 886.5 178.0)" fill="white" stroke="#1c1c1c" stroke-width="1.4560000000000002"/>
<ellipse cx="887.3" cy="178.4" rx="5.6" ry="8.8" transform="rotate(30 887.3 178.4)" fill="white" stroke="#1c1c1c" stroke-width="1.12"/>
<ellipse cx="888.0" cy="178.8" rx="3.4" ry="5.0" transform="rotate(30 888.0 178.8)" fill="#666" stroke="#1c1c1c" stroke-width="1.12"/>
<path d="M888.0,179.0 L893.0,182.0" fill="none" stroke="#444" stroke-width="4.704000000000001" />
<ellipse cx="893.5" cy="182.2" rx="2.2" ry="3.2" transform="rotate(30 893.5 182.2)" fill="white" stroke="#1c1c1c" stroke-width="1.0080000000000002"/>
<path d="M864.0,171.0 L879.0,179.7" fill="none" stroke="#1c1c1c" stroke-width="1.12" />
<path d="M898.0,185.7 L915.0,176.0 L921.0,179.3" fill="none" stroke="#1c1c1c" stroke-width="1.12" />
<ellipse cx="926.2" cy="181.5" rx="6.0" ry="9.6" transform="rotate(30 926.2 181.5)" fill="none" stroke="#1c1c1c" stroke-width="1.344"/>
<ellipse cx="904.6" cy="197.5" rx="7.0" ry="11.0" transform="rotate(30 904.6 197.5)" fill="white" stroke="#1c1c1c" stroke-width="1.12"/>
<path d="M917.0,192.0 L910.1,188.0 L899.1,207.0 L906.0,211.0 Z" fill="white" stroke="none" stroke-width="1.12" />
<path d="M917.0,192.0 L910.1,188.0" fill="none" stroke="#1c1c1c" stroke-width="1.12" />
<path d="M906.0,211.0 L899.1,207.0" fill="none" stroke="#1c1c1c" stroke-width="1.12" />
<ellipse cx="911.5" cy="201.5" rx="7.0" ry="11.0" transform="rotate(30 911.5 201.5)" fill="white" stroke="#1c1c1c" stroke-width="1.344"/>
<ellipse cx="911.8" cy="201.7" rx="5.3" ry="8.8" transform="rotate(30 911.8 201.7)" fill="white" stroke="#1c1c1c" stroke-width="1.9040000000000001"/>
<ellipse cx="912.1" cy="201.8" rx="3.4" ry="6.0" transform="rotate(30 912.1 201.8)" fill="white" stroke="#1c1c1c" stroke-width="1.0080000000000002"/>
<path d="M912.0,203.1 L920.0,207.7" fill="none" stroke="#1c1c1c" stroke-width="1.12" />
<path d="M936,156.5 L937.5,166.5 Q941,176 949.5,184.5 L961.3,196 L968.7,197.5 L980,192.5 L997,193.8 L1008.8,197.5 L1002.9,193 Q990,182 982,178.2 L962.8,170.7 L959.8,158.9 L957.6,145.5 Z" fill="white" stroke="none" stroke-width="0.0" />
<path d="M959.8,196.7 L968.7,197.5 L962,232 L959.8,238 L943.5,229 Z" fill="white" stroke="none" stroke-width="0.0" />
<clipPath id="chb"><path d="M966,150 L1030,150 L1030,222 L1008,204 L985,200 L966,214 Z"/></clipPath><g clip-path="url(#chb)">
<ellipse cx="983.1" cy="232.0" rx="21.0" ry="41.0" transform="rotate(30 983.1 232.0)" fill="white" stroke="#1c1c1c" stroke-width="1.12"/>
<ellipse cx="984.6" cy="232.9" rx="20.0" ry="39.5" transform="rotate(30 984.6 232.9)" fill="none" stroke="#1c1c1c" stroke-width="0.8960000000000001"/>
</g>
<ellipse cx="990.0" cy="236.0" rx="21.0" ry="41.0" transform="rotate(30 990.0 236.0)" fill="white" stroke="#1c1c1c" stroke-width="1.12"/>
<clipPath id="cthr"><path d="M1000,185 L1030,185 L1030,290 L960,290 L960,262 L985,262 L1004,238 Z"/></clipPath><g clip-path="url(#cthr)">
<ellipse cx="990.0" cy="236.0" rx="21.0" ry="41.0" transform="rotate(30 990.0 236.0)" fill="none" stroke="#1c1c1c" stroke-width="1.6800000000000002"/>
<ellipse cx="988.9" cy="235.3" rx="20.6" ry="40.5" transform="rotate(30 988.9 235.3)" fill="none" stroke="#1c1c1c" stroke-width="0.56"/>
<ellipse cx="987.8" cy="234.8" rx="20.6" ry="40.5" transform="rotate(30 987.8 234.8)" fill="none" stroke="#1c1c1c" stroke-width="0.56"/>
<ellipse cx="986.8" cy="234.2" rx="20.6" ry="40.5" transform="rotate(30 986.8 234.2)" fill="none" stroke="#1c1c1c" stroke-width="0.56"/>
<ellipse cx="985.8" cy="233.6" rx="20.6" ry="40.5" transform="rotate(30 985.8 233.6)" fill="none" stroke="#1c1c1c" stroke-width="0.784"/>
</g>
<ellipse cx="986.5" cy="233.9" rx="17.8" ry="36.5" transform="rotate(30 986.5 233.9)" fill="white" stroke="#1c1c1c" stroke-width="1.2320000000000002"/>
<clipPath id="cring"><ellipse cx="986.5" cy="233.9" rx="17.8" ry="36.5" transform="rotate(30 986.5 233.9)"/></clipPath><g clip-path="url(#cring)">
<ellipse cx="981.2" cy="230.9" rx="17.5" ry="36.0" transform="rotate(30 981.2 230.9)" fill="none" stroke="#1c1c1c" stroke-width="0.8960000000000001"/>
<ellipse cx="976.0" cy="227.9" rx="17.5" ry="36.0" transform="rotate(30 976.0 227.9)" fill="none" stroke="#1c1c1c" stroke-width="0.8960000000000001"/>
<ellipse cx="971.6" cy="225.4" rx="17.5" ry="36.0" transform="rotate(30 971.6 225.4)" fill="none" stroke="#1c1c1c" stroke-width="0.8960000000000001"/>
<ellipse cx="981.0" cy="222.0" rx="6.0" ry="12.0" transform="rotate(30 981.0 222.0)" fill="none" stroke="#1c1c1c" stroke-width="1.7920000000000003"/>
<ellipse cx="979.0" cy="221.0" rx="6.0" ry="12.0" transform="rotate(30 979.0 221.0)" fill="none" stroke="#1c1c1c" stroke-width="0.8960000000000001"/>
<path d="M972.0,236.0 L1000.0,252.0" fill="none" stroke="#1c1c1c" stroke-width="0.8960000000000001" />
<path d="M971.0,241.0 L997.0,256.0" fill="none" stroke="#1c1c1c" stroke-width="0.8960000000000001" />
<path d="M973.0,249.0 L992.0,260.0" fill="none" stroke="#1c1c1c" stroke-width="0.8960000000000001" />
<path d="M976.0,255.0 L988.0,262.0" fill="none" stroke="#1c1c1c" stroke-width="0.8960000000000001" />
<path d="M978.0,233.0 L990.0,226.0" fill="none" stroke="#1c1c1c" stroke-width="0.8960000000000001" />
<path d="M981.0,238.0 L994.0,230.5" fill="none" stroke="#1c1c1c" stroke-width="0.8960000000000001" />
</g>
<path d="M975.0,228.5 L1081.9,293.0" fill="none" stroke="#1c1c1c" stroke-width="1.12" />
<path d="M981.0,241.5 L1063.5,290.2" fill="none" stroke="#1c1c1c" stroke-width="1.12" />
<path d="M936,156.5 L937.5,166.5 Q941,176 949.5,184.5 L961.3,196 L968.7,197.5" fill="none" stroke="#1c1c1c" stroke-width="1.2320000000000002" />
<path d="M957.6,145.5 L959.8,158.9 L962.8,170.7 L982,178.2 Q992,183 1002.9,193 L1008.8,197.5 L1012.5,205.5" fill="none" stroke="#1c1c1c" stroke-width="1.2320000000000002" />
<path d="M950.2,170.7 L952.4,178.2 Q956,185 961.3,190 L968.7,197.5 L968.7,203" fill="none" stroke="#1c1c1c" stroke-width="1.12" />
<path d="M962.8,170.7 Q968,177 973.2,181.1 L994,191.5 L1005.8,199" fill="none" stroke="#1c1c1c" stroke-width="1.0080000000000002" />
<path d="M966,176 Q985,185 1001,197.5" fill="none" stroke="#1c1c1c" stroke-width="0.784" />
<path d="M940.5,226 Q948,212 960,196.5 Q953,211 944.5,227.5 Z" fill="#777" stroke="#1c1c1c" stroke-width="1.0080000000000002" />
<path d="M943.5,228.5 Q952,213 962.5,199" fill="none" stroke="#1c1c1c" stroke-width="0.8960000000000001" />
<circle cx="959.0" cy="211.0" r="3.6" fill="white" stroke="#1c1c1c" stroke-width="1.12"/>
<path d="M896.7,155.9 L924.2,134.4 L937.5,130.6 L946.4,119.5 L975.4,100.9 L992.5,110.6 L993.2,114.3 L964.3,132.9 L957.6,144.8 L943.5,148.5 L936,154.4 L913.8,166.3 L903.4,164.8 L897.4,158.9 Z" fill="white" stroke="#1c1c1c" stroke-width="1.624" />
<path d="M898.5,155.5 L925,136.5 L938.5,132.8 L947.5,121.5 L975.3,103.2 L990,111.4 L962.5,129.5 L956.5,141.5 L943,145.5 L934.5,151.5 L913,162.5 L904.5,161.5 Z" fill="none" stroke="#1c1c1c" stroke-width="0.8960000000000001" />
<path d="M912.3,152.2 L971.0,113.6 L977.6,117.3 L919.0,155.9 Z" fill="none" stroke="#1c1c1c" stroke-width="1.12" />
<path d="M912.3,152.2 L913.8,153.4 L972.3,115.0" fill="none" stroke="#1c1c1c" stroke-width="0.784" />
<path d="M937.5,130.6 L942,131.5 L950.5,120.5 M946.4,119.5 L950.5,120.5" fill="none" stroke="#1c1c1c" stroke-width="0.8960000000000001" />
<path d="M946,140 L952.5,135.5 L958.3,138.5 L955,144 M952.5,135.5 L951,141.5 M948,133 L963,126" fill="none" stroke="#1c1c1c" stroke-width="0.8960000000000001" />
<ellipse cx="951.0" cy="252.4" rx="19.0" ry="30.5" transform="rotate(-30 951.0 252.4)" fill="white" stroke="#1c1c1c" stroke-width="1.2320000000000002"/>
<path d="M914.8,238.1 L935.8,226.0 L966.2,278.8 L945.2,290.9 Z" fill="white" stroke="none" stroke-width="1.12" />
<path d="M914.8,238.1 L935.8,226.0" fill="none" stroke="#1c1c1c" stroke-width="1.2320000000000002" />
<path d="M945.2,290.9 L966.2,278.8" fill="none" stroke="#1c1c1c" stroke-width="1.2320000000000002" />
<clipPath id="cband"><path d="M940,215 L990,215 L990,300 L950,300 Z"/></clipPath><g clip-path="url(#cband)">
<ellipse cx="948.0" cy="254.2" rx="19.0" ry="30.5" transform="rotate(-30 948.0 254.2)" fill="none" stroke="#1c1c1c" stroke-width="0.8960000000000001"/>
</g>
<ellipse cx="930.0" cy="264.5" rx="19.0" ry="30.5" transform="rotate(-30 930.0 264.5)" fill="white" stroke="#1c1c1c" stroke-width="1.344"/>
<ellipse cx="930.8" cy="264.1" rx="17.6" ry="28.8" transform="rotate(-30 930.8 264.1)" fill="white" stroke="#1c1c1c" stroke-width="1.0080000000000002"/>
<clipPath id="cnose"><ellipse cx="930.8" cy="264.1" rx="17.6" ry="28.8" transform="rotate(-30 930.8 264.1)"/></clipPath><g clip-path="url(#cnose)">
<ellipse cx="938.0" cy="259.9" rx="17.8" ry="29.0" transform="rotate(-30 938.0 259.9)" fill="none" stroke="#1c1c1c" stroke-width="1.0080000000000002"/>
<ellipse cx="939.5" cy="259.3" rx="7.6" ry="15.0" transform="rotate(-30 939.5 259.3)" fill="white" stroke="#1c1c1c" stroke-width="1.12"/>
<ellipse cx="941.0" cy="258.5" rx="6.0" ry="12.5" transform="rotate(-30 941.0 258.5)" fill="white" stroke="#1c1c1c" stroke-width="1.6800000000000002"/>
<path d="M917.0,279.0 L934.0,269.0" fill="none" stroke="#1c1c1c" stroke-width="0.8960000000000001" />
<path d="M919.0,283.5 L936.0,273.5" fill="none" stroke="#1c1c1c" stroke-width="0.8960000000000001" />
<path d="M925.0,287.0 L945.0,275.5" fill="none" stroke="#1c1c1c" stroke-width="0.8960000000000001" />
<path d="M928.0,291.0 L948.0,279.5" fill="none" stroke="#1c1c1c" stroke-width="0.8960000000000001" />
<path d="M923,252 L929,249.5 L931,256 L925,259 Z" fill="#2a2a2a" stroke="#1c1c1c" stroke-width="0.8960000000000001" />
<path d="M927.5,262.5 L932,260 L934.5,266.5 L930,268.5 Z" fill="#2a2a2a" stroke="#1c1c1c" stroke-width="0.8960000000000001" />
<path d="M925,259 L930,268.5 M929,249.5 L934,246" fill="none" stroke="#1c1c1c" stroke-width="1.0080000000000002" />
<circle cx="921.0" cy="243.0" r="2.6" fill="white" stroke="#1c1c1c" stroke-width="1.0080000000000002"/>
<circle cx="920.5" cy="279.5" r="2.8" fill="white" stroke="#1c1c1c" stroke-width="1.0080000000000002"/>
<circle cx="945.0" cy="283.0" r="2.8" fill="white" stroke="#1c1c1c" stroke-width="1.0080000000000002"/>
</g>
<text x="0" y="0" font-size="6.6" font-weight="bold" textLength="41" lengthAdjust="spacingAndGlyphs" transform="translate(963,277) rotate(-117)" style="fill:#111">MAGSEALED</text>
<circle cx="970.2" cy="247.5" r="2.8" fill="white" stroke="#1c1c1c" stroke-width="1.0080000000000002"/>
<path d="M920.0,207.7 L941.0,219.8" fill="none" stroke="#1c1c1c" stroke-width="1.12" />
<path d="M907.8,239.8 L942.0,219.8" fill="none" stroke="#1c1c1c" stroke-width="1.12" />
<path d="M889.0,249.6 L902.0,242.3" fill="none" stroke="#1c1c1c" stroke-width="0.8960000000000001" />
<path d="M890.0,251.6 L903.0,244.3" fill="none" stroke="#1c1c1c" stroke-width="0.8960000000000001" />
<path d="M901.0,243.7 L906.2,240.8" fill="none" stroke="#2a2a2a" stroke-width="3.136" />
<ellipse cx="888.0" cy="251.3" rx="2.6" ry="3.3" transform="rotate(-30 888.0 251.3)" fill="white" stroke="#1c1c1c" stroke-width="1.12"/>
<ellipse cx="887.4" cy="251.6" rx="1.6" ry="2.2" transform="rotate(-30 887.4 251.6)" fill="white" stroke="#1c1c1c" stroke-width="0.8960000000000001"/>
<path d="M1024.8,126.5 L1029.5,122.3 L1039,127.5 L1039.2,134 L1035,137.2 L1024.8,131.8 Z" fill="white" stroke="#1c1c1c" stroke-width="1.2320000000000002" />
<path d="M1024.8,126.5 L1034.8,131.5 L1039,127.5 M1034.8,131.5 L1035,137.2" fill="none" stroke="#1c1c1c" stroke-width="1.0080000000000002" />
<ellipse cx="1030.0" cy="129.5" rx="1.8" ry="2.6" transform="rotate(-30 1030.0 129.5)" fill="#999" stroke="#1c1c1c" stroke-width="1.12"/>
<path d="M1039.0,127.5 L1046.0,123.2" fill="none" stroke="#1c1c1c" stroke-width="1.12" />
<path d="M1047.5,121.0 L1075.0,105.0" fill="none" stroke="#1c1c1c" stroke-width="4.032000000000001" />
<path d="M1048.2,120.6 L1074.6,105.3" fill="none" stroke="white" stroke-width="2.128" />
<path d="M1045.5,122.6 L1048.5,120.8" fill="none" stroke="#2a2a2a" stroke-width="2.9120000000000004" />
<path d="M1054.1,154.2 L1057.8,152 L1066,157.2 Q1068.5,158.5 1069,165.3 Q1069.5,169 1072.5,171 Q1076,173 1076.2,178 L1076.4,189.1 Q1076,197 1071.9,204 L1066.7,209.9 L1051.9,202.5 L1051.1,198 Q1057,190 1059.3,183.2 Q1061,176 1060,169.8 Z" fill="none" stroke="#1c1c1c" stroke-width="3.136" />
<path d="M1054.1,154.2 L1057.8,152 L1066,157.2 Q1068.5,158.5 1069,165.3 Q1069.5,169 1072.5,171 Q1076,173 1076.2,178 L1076.4,189.1 Q1076,197 1071.9,204 L1066.7,209.9 L1051.9,202.5 L1051.1,198 Q1057,190 1059.3,183.2 Q1061,176 1060,169.8 Z" fill="none" stroke="white" stroke-width="1.12" />
<path d="M1097.9,114.1 L1111.3,114.9 L1127.6,122.3 Q1132,128 1132.8,134.2 L1132.8,149 Q1131,158 1126.1,166.8 L1114.3,184.7 L1099.4,196.5 L1090.5,195 L1084.6,184.7 L1080.8,175.7 L1099.4,159.4 Q1106,150 1106.8,143.1 Q1106,137 1102.4,134.2 L1096.4,128.2 Z" fill="white" stroke="#1c1c1c" stroke-width="1.344" />
<path d="M1099,115.5 Q1115,121 1122,131 Q1128,142 1124,158 L1113,179 L1099,191" fill="none" stroke="#1c1c1c" stroke-width="1.0080000000000002" />
<path d="M1127.6,122.3 Q1120,122 1111,118.5" fill="none" stroke="#1c1c1c" stroke-width="0.8960000000000001" />
<path d="M1098,119 L1104,121 L1112,128 L1119,138 L1121,150 L1117,163 L1111,172 L1102,166 L1106,155 L1108.5,143 L1104,133 L1097.5,127 Z" fill="#4a4a4a" stroke="#1c1c1c" stroke-width="0.8960000000000001" />
<path d="M1101,123 L1109,128 L1106.5,134 Z M1107.5,133 L1116,138 L1117.5,151 L1110,147 Z M1110.5,152 L1116,155 L1110.5,168 L1105,164 Z M1112,131 L1117,137 M1104,140 L1107,150" fill="white" stroke="white" stroke-width="1.0080000000000002" />
<ellipse cx="1100.0" cy="121.5" rx="2.6" ry="3.2" transform="rotate(0 1100.0 121.5)" fill="#777" stroke="#1c1c1c" stroke-width="1.12"/>
<path d="M1084.6,176 L1100,163.5 L1113.5,172.5 L1107,181 L1098.5,176.5 L1093,181 L1087.5,179.5" fill="none" stroke="#1c1c1c" stroke-width="1.0080000000000002" />
<path d="M1083,178 L1086.5,185.5 L1091,183.5" fill="none" stroke="#1c1c1c" stroke-width="1.0080000000000002" />
<circle cx="1095.5" cy="186.5" r="4.2" fill="white" stroke="#1c1c1c" stroke-width="1.12"/>
<circle cx="1096.5" cy="186.0" r="2.2" fill="white" stroke="#1c1c1c" stroke-width="0.8960000000000001"/>
<path d="M1100.0,187.5 L1117.0,191.5" fill="none" stroke="#1c1c1c" stroke-width="1.0080000000000002" />
<circle cx="1121.4" cy="192.8" r="2.8" fill="#444" stroke="#1c1c1c" stroke-width="1.12"/>
<path d="M1058.5,256.2 L1153.0,200.8" fill="none" stroke="#1c1c1c" stroke-width="7.168000000000001" />
<path d="M1059.2,255.8 L1152.3,201.2" fill="none" stroke="white" stroke-width="5.152" />
<path d="M1059.5,255.2 L1152.0,201.0" fill="none" stroke="#1c1c1c" stroke-width="0.784" />
<ellipse cx="1058.7" cy="256.2" rx="2.2" ry="3.2" transform="rotate(-30 1058.7 256.2)" fill="white" stroke="#1c1c1c" stroke-width="1.12"/>
<path d="M1085.0,240.0 L1094.0,234.7" fill="none" stroke="#1c1c1c" stroke-width="1.7920000000000003" />
<path d="M1086.5,240.3 L1088.0,237.0" fill="none" stroke="#1c1c1c" stroke-width="0.8960000000000001" />
<path d="M1144.5,184 Q1145,181 1148.5,181 L1153,182.5 L1157,185 L1163,184 L1166,187.5 L1165.5,197 L1163,200.5 L1163.5,211.5 L1160.5,215.5 L1154,214 L1152.5,206 L1148,203 L1151,198 L1156,195.5 L1154.5,191.5 L1148.5,191.5 L1145.5,188.5 Z" fill="white" stroke="#1c1c1c" stroke-width="1.2320000000000002" />
<ellipse cx="1148.8" cy="186.0" rx="2.0" ry="3.0" transform="rotate(-30 1148.8 186.0)" fill="white" stroke="#1c1c1c" stroke-width="1.0080000000000002"/>
<path d="M1156,195.5 L1160.5,198.5 L1160.5,207 L1154,206 M1160.5,198.5 L1163,200.5 M1157,185 L1158.5,190.5 L1154.5,191.5 M1158.5,190.5 L1162.5,190 L1165.5,193" fill="none" stroke="#1c1c1c" stroke-width="0.8960000000000001" />
<path d="M1016.0,343.4 L1026.7,349.7" fill="none" stroke="#1c1c1c" stroke-width="1.12" />
<path d="M1070.0,375.1 L1085.5,384.3" fill="none" stroke="#1c1c1c" stroke-width="1.12" />
<path d="M1091.0,387.5 L1096.5,390.7" fill="none" stroke="#1c1c1c" stroke-width="1.12" />
<path d="M1106.0,396.3 L1114.0,401.0" fill="none" stroke="#1c1c1c" stroke-width="1.12" />
<ellipse cx="1026.7" cy="349.7" rx="10.8" ry="18.2" transform="rotate(30 1026.7 349.7)" fill="white" stroke="#1c1c1c" stroke-width="1.12"/>
<ellipse cx="1026.7" cy="349.7" rx="3.3" ry="5.2" transform="rotate(30 1026.7 349.7)" fill="white" stroke="#1c1c1c" stroke-width="1.12"/>
<path d="M1028.0,350.5 L1040.0,357.5" fill="none" stroke="#1c1c1c" stroke-width="1.12" />
<ellipse cx="1051.6" cy="365.0" rx="12.0" ry="19.0" transform="rotate(30 1051.6 365.0)" fill="#3c3c3c" stroke="#1c1c1c" stroke-width="1.344"/>
<path d="M1066.3,351.5 L1061.1,348.5 L1042.1,381.5 L1047.3,384.5 Z" fill="#3c3c3c" stroke="none" stroke-width="1.12" />
<path d="M1040.8,380.2 L1045.4,382.8" fill="none" stroke="white" stroke-width="1.9040000000000001" />
<path d="M1039.2,377.7 L1043.8,380.4" fill="none" stroke="white" stroke-width="1.9040000000000001" />
<path d="M1038.3,374.6 L1042.9,377.3" fill="none" stroke="white" stroke-width="1.9040000000000001" />
<path d="M1038.1,371.0 L1042.7,373.7" fill="none" stroke="white" stroke-width="1.9040000000000001" />
<path d="M1038.7,367.2 L1043.3,369.8" fill="none" stroke="white" stroke-width="1.9040000000000001" />
<path d="M1039.9,363.2 L1044.5,365.9" fill="none" stroke="white" stroke-width="1.9040000000000001" />
<path d="M1041.8,359.4 L1046.4,362.0" fill="none" stroke="white" stroke-width="1.9040000000000001" />
<path d="M1044.2,355.8 L1048.8,358.5" fill="none" stroke="white" stroke-width="1.9040000000000001" />
<path d="M1047.0,352.7 L1051.6,355.4" fill="none" stroke="white" stroke-width="1.9040000000000001" />
<path d="M1050.1,350.3 L1054.7,353.0" fill="none" stroke="white" stroke-width="1.9040000000000001" />
<path d="M1053.3,348.7 L1057.9,351.3" fill="none" stroke="white" stroke-width="1.9040000000000001" />
<path d="M1056.4,347.9 L1061.0,350.6" fill="none" stroke="white" stroke-width="1.9040000000000001" />
<path d="M1059.3,348.0 L1063.9,350.7" fill="none" stroke="white" stroke-width="1.9040000000000001" />
<path d="M1067.2,374.0 L1065.2,374.9 L1065.0,377.3 L1063.1,377.7 L1062.4,380.2 L1060.6,380.1 L1059.6,382.5 L1058.0,381.9 L1056.7,384.2 L1055.4,383.2 L1053.8,385.2 L1052.8,383.7 L1051.0,385.5 L1050.4,383.6 L1048.4,385.0 L1048.2,382.8 L1046.3,383.7 L1046.5,381.4 L1044.6,381.8 L1045.2,379.3 L1043.4,379.2 L1044.4,376.8 L1042.8,376.2 L1044.1,373.9 L1042.8,372.8 L1044.4,370.7 L1043.4,369.2 L1045.3,367.4 L1044.7,365.6 L1046.6,364.2 L1046.4,362.0 L1048.4,361.1 L1048.6,358.7 L1050.5,358.3 L1051.2,355.8 L1053.0,355.9 L1054.0,353.5 L1055.6,354.1 L1056.9,351.8 L1058.2,352.8 L1059.8,350.8 L1060.8,352.3 L1062.6,350.5 L1063.2,352.4 L1065.2,351.0 L1065.3,353.2 L1067.3,352.3 L1067.1,354.6 L1069.0,354.2 L1068.4,356.7 L1070.2,356.8 L1069.2,359.2 L1070.8,359.8 L1069.5,362.1 L1070.8,363.2 L1069.2,365.3 L1070.2,366.8 L1068.3,368.6 L1068.9,370.4 L1067.0,371.8 Z" fill="white" stroke="#1c1c1c" stroke-width="1.0080000000000002" />
<ellipse cx="1056.8" cy="368.0" rx="9.5" ry="15.3" transform="rotate(30 1056.8 368.0)" fill="white" stroke="#1c1c1c" stroke-width="1.0080000000000002"/>
<ellipse cx="1057.2" cy="368.2" rx="7.6" ry="12.4" transform="rotate(30 1057.2 368.2)" fill="white" stroke="#1c1c1c" stroke-width="2.24"/>
<ellipse cx="1057.6" cy="368.5" rx="5.3" ry="9.0" transform="rotate(30 1057.6 368.5)" fill="white" stroke="#1c1c1c" stroke-width="1.0080000000000002"/>
<ellipse cx="1058.0" cy="368.7" rx="3.4" ry="6.0" transform="rotate(30 1058.0 368.7)" fill="white" stroke="#1c1c1c" stroke-width="1.12"/>
<circle cx="1065.2" cy="364.6" r="1.7" fill="white" stroke="#1c1c1c" stroke-width="0.8960000000000001"/>
<path d="M1067.0,368.4 L1071.0,370.7" fill="none" stroke="#2a2a2a" stroke-width="2.9120000000000004" />
<path d="M1057.5,368.1 L1063.5,371.6" fill="none" stroke="#1c1c1c" stroke-width="1.12" />
<ellipse cx="1079.7" cy="372.2" rx="1.7" ry="2.3" transform="rotate(30 1079.7 372.2)" fill="#888" stroke="#1c1c1c" stroke-width="1.4560000000000002"/>
<path d="M1072.5,368.0 L1077.0,370.6" fill="none" stroke="#1c1c1c" stroke-width="1.12" />
<ellipse cx="1087.9" cy="385.6" rx="3.0" ry="4.6" transform="rotate(30 1087.9 385.6)" fill="white" stroke="#1c1c1c" stroke-width="1.4560000000000002"/>
<ellipse cx="1099.2" cy="392.4" rx="3.1" ry="4.4" transform="rotate(30 1099.2 392.4)" fill="white" stroke="#1c1c1c" stroke-width="1.12"/>
<path d="M1101.4,388.6 L1103.6,389.9" fill="none" stroke="#1c1c1c" stroke-width="1.12" />
<path d="M1097.0,396.2 L1099.8,397.8" fill="none" stroke="#1c1c1c" stroke-width="1.12" />
<ellipse cx="1101.8" cy="393.9" rx="3.1" ry="4.4" transform="rotate(30 1101.8 393.9)" fill="#444" stroke="#1c1c1c" stroke-width="1.12"/>
<ellipse cx="1102.2" cy="394.1" rx="1.5" ry="2.3" transform="rotate(30 1102.2 394.1)" fill="#aaa" stroke="#1c1c1c" stroke-width="0.672"/>
<path d="M1113.5,400.8 L1118.0,403.4" fill="none" stroke="#2a2a2a" stroke-width="3.8080000000000003" />
<ellipse cx="1120.8" cy="405.0" rx="3.8" ry="5.6" transform="rotate(30 1120.8 405.0)" fill="white" stroke="#1c1c1c" stroke-width="1.2320000000000002"/>
<path d="M1119.8,403.2 L1121.8,406.8 M1119.2,406 L1122.4,404" fill="none" stroke="#1c1c1c" stroke-width="0.672" />
<path d="M917.5,384.4 L935.0,394.6" fill="none" stroke="#1c1c1c" stroke-width="1.12" />
<path d="M1003.0,434.2 L1007.0,436.5" fill="none" stroke="#1c1c1c" stroke-width="1.12" />
<path d="M1018.0,442.9 L1030.0,449.9" fill="none" stroke="#1c1c1c" stroke-width="1.12" />
<path d="M1040.0,455.7 L1046.0,459.2" fill="none" stroke="#1c1c1c" stroke-width="1.12" />
<ellipse cx="922.3" cy="387.2" rx="4.8" ry="6.9" transform="rotate(30 922.3 387.2)" fill="white" stroke="#1c1c1c" stroke-width="1.12"/>
<ellipse cx="922.3" cy="387.2" rx="3.4" ry="5.2" transform="rotate(30 922.3 387.2)" fill="white" stroke="#1c1c1c" stroke-width="1.0080000000000002"/>
<path d="M937.0,395.6 L962.0,410.0" fill="none" stroke="#1c1c1c" stroke-width="8.512" />
<path d="M941.5,398.2 L962.0,410.0" fill="none" stroke="white" stroke-width="6.496" />
<path d="M936.5,395.3 L941.5,398.2" fill="none" stroke="#444" stroke-width="7.392" />
<ellipse cx="944.5" cy="399.8" rx="2.2" ry="3.8" transform="rotate(30 944.5 399.8)" fill="none" stroke="#1c1c1c" stroke-width="0.784"/>
<ellipse cx="948.5" cy="402.1" rx="2.2" ry="3.8" transform="rotate(30 948.5 402.1)" fill="none" stroke="#1c1c1c" stroke-width="0.784"/>
<ellipse cx="953.0" cy="404.8" rx="2.2" ry="3.8" transform="rotate(30 953.0 404.8)" fill="none" stroke="#1c1c1c" stroke-width="0.784"/>
<ellipse cx="957.0" cy="407.1" rx="2.2" ry="3.8" transform="rotate(30 957.0 407.1)" fill="none" stroke="#1c1c1c" stroke-width="0.784"/>
<path d="M957,402.5 L964,399.5 L969.5,404 L968,421 L961,423.5 L956.5,416.5 Z" fill="white" stroke="#1c1c1c" stroke-width="1.12" />
<path d="M957.3,404.5 L963.5,401.5" fill="none" stroke="#1c1c1c" stroke-width="1.12" />
<path d="M957.5,407.1 L964.2,405.1" fill="none" stroke="#1c1c1c" stroke-width="1.12" />
<path d="M957.8,409.7 L964.9,408.7" fill="none" stroke="#1c1c1c" stroke-width="1.12" />
<path d="M958.0,412.3 L965.6,412.3" fill="none" stroke="#1c1c1c" stroke-width="1.12" />
<path d="M958.3,414.9 L966.3,415.9" fill="none" stroke="#1c1c1c" stroke-width="1.12" />
<path d="M958.5,417.5 L967.0,419.5" fill="none" stroke="#1c1c1c" stroke-width="1.12" />
<path d="M994.1,427.4 L992.3,428.6 L991.8,430.9 L990.0,431.8 L989.4,434.2 L987.6,434.8 L986.7,437.2 L985.0,437.5 L983.8,439.9 L982.3,439.8 L980.9,442.1 L979.5,441.7 L978.0,443.8 L976.7,443.1 L975.1,445.1 L974.0,444.0 L972.3,445.8 L971.5,444.4 L969.7,445.9 L969.1,444.3 L967.2,445.6 L966.9,443.7 L965.1,444.6 L964.9,442.6 L963.2,443.2 L963.3,441.0 L961.6,441.3 L962.0,439.0 L960.4,438.9 L961.1,436.6 L959.7,436.1 L960.6,433.8 L959.3,433.0 L960.4,430.7 L959.3,429.6 L960.6,427.3 L959.8,426.0 L961.3,423.8 L960.7,422.2 L962.3,420.2 L961.9,418.4 L963.6,416.6 L963.6,414.6 L965.3,413.0 L965.5,410.9 L967.3,409.6 L967.8,407.3 L969.6,406.4 L970.2,404.0 L972.0,403.4 L972.9,401.0 L974.6,400.7 L975.8,398.3 L977.3,398.4 L978.7,396.1 L980.1,396.5 L981.6,394.4 L982.9,395.1 L984.5,393.1 L985.6,394.2 L987.3,392.4 L988.1,393.8 L989.9,392.3 L990.6,393.9 L992.4,392.6 L992.7,394.5 L994.6,393.6 L994.7,395.6 L996.4,395.0 L996.3,397.2 L998.0,396.9 L997.6,399.2 L999.2,399.3 L998.5,401.6 L999.9,402.1 L999.1,404.4 L1000.3,405.2 L999.2,407.5 L1000.3,408.6 L999.0,410.9 L999.8,412.2 L998.3,414.4 L998.9,416.0 L997.3,418.0 L997.7,419.8 L996.0,421.6 L996.0,423.6 L994.3,425.2 Z" fill="white" stroke="#1c1c1c" stroke-width="1.0080000000000002" />
<ellipse cx="982.4" cy="420.6" rx="15.6" ry="28.5" transform="rotate(30 982.4 420.6)" fill="white" stroke="#1c1c1c" stroke-width="1.344"/>
<ellipse cx="983.2" cy="421.1" rx="14.2" ry="26.5" transform="rotate(30 983.2 421.1)" fill="white" stroke="#1c1c1c" stroke-width="0.8960000000000001"/>
<ellipse cx="983.9" cy="421.5" rx="9.6" ry="19.0" transform="rotate(30 983.9 421.5)" fill="white" stroke="#1c1c1c" stroke-width="1.0080000000000002"/>
<ellipse cx="983.9" cy="421.5" rx="4.4" ry="7.4" transform="rotate(30 983.9 421.5)" fill="white" stroke="#1c1c1c" stroke-width="1.12"/>
<path d="M986.9,416.3 L993.4,420.1 L987.4,430.5 L980.9,426.7 Z" fill="white" stroke="none" stroke-width="1.12" />
<path d="M986.9,416.3 L993.4,420.1" fill="none" stroke="#1c1c1c" stroke-width="1.12" />
<path d="M980.9,426.7 L987.4,430.5" fill="none" stroke="#1c1c1c" stroke-width="1.12" />
<ellipse cx="990.4" cy="425.3" rx="3.6" ry="6.0" transform="rotate(30 990.4 425.3)" fill="white" stroke="#1c1c1c" stroke-width="1.12"/>
<path d="M990.4,425.3 L997.4,429.4" fill="none" stroke="#3a3a3a" stroke-width="7.168000000000001" />
<ellipse cx="998.0" cy="429.7" rx="2.2" ry="3.3" transform="rotate(30 998.0 429.7)" fill="#bbb" stroke="#1c1c1c" stroke-width="1.0080000000000002"/>
<ellipse cx="1013.0" cy="440.0" rx="6.6" ry="10.0" transform="rotate(30 1013.0 440.0)" fill="white" stroke="#1c1c1c" stroke-width="1.12"/>
<ellipse cx="1013.0" cy="440.0" rx="4.8" ry="7.6" transform="rotate(30 1013.0 440.0)" fill="white" stroke="#1c1c1c" stroke-width="1.0080000000000002"/>
<ellipse cx="1032.7" cy="451.5" rx="8.4" ry="13.5" transform="rotate(30 1032.7 451.5)" fill="white" stroke="#1c1c1c" stroke-width="1.12"/>
<path d="M1047.2,444.3 L1039.5,439.8 L1026.0,463.2 L1033.8,467.7 Z" fill="white" stroke="none" stroke-width="1.12" />
<path d="M1047.2,444.3 L1039.5,439.8" fill="none" stroke="#1c1c1c" stroke-width="1.12" />
<path d="M1033.8,467.7 L1026.0,463.2" fill="none" stroke="#1c1c1c" stroke-width="1.12" />
<ellipse cx="1040.5" cy="456.0" rx="8.4" ry="13.5" transform="rotate(30 1040.5 456.0)" fill="white" stroke="#1c1c1c" stroke-width="1.344"/>
<ellipse cx="1040.8" cy="456.2" rx="6.6" ry="11.2" transform="rotate(30 1040.8 456.2)" fill="white" stroke="#1c1c1c" stroke-width="1.0080000000000002"/>
<ellipse cx="1041.0" cy="456.3" rx="5.4" ry="9.4" transform="rotate(30 1041.0 456.3)" fill="white" stroke="#1c1c1c" stroke-width="1.7920000000000003"/>
<ellipse cx="1041.3" cy="456.5" rx="3.4" ry="6.2" transform="rotate(30 1041.3 456.5)" fill="white" stroke="#1c1c1c" stroke-width="1.0080000000000002"/>
<path d="M1041.0,456.3 L1064.0,469.5" fill="none" stroke="#1c1c1c" stroke-width="1.12" />
<ellipse cx="776.0" cy="439.7" rx="14.2" ry="23.6" transform="rotate(30 776.0 439.7)" fill="none" stroke="#1c1c1c" stroke-width="1.12"/>
<ellipse cx="776.0" cy="439.7" rx="13.0" ry="22.2" transform="rotate(30 776.0 439.7)" fill="none" stroke="#1c1c1c" stroke-width="1.0080000000000002"/>
<path d="M776.0,439.7 L795.0,450.4" fill="none" stroke="#1c1c1c" stroke-width="1.12" />
<ellipse cx="814.7" cy="464.5" rx="23.6" ry="37.5" transform="rotate(30 814.7 464.5)" fill="white" stroke="#1c1c1c" stroke-width="1.6800000000000002"/>
<ellipse cx="815.8" cy="465.1" rx="23.6" ry="37.5" transform="rotate(30 815.8 465.1)" fill="white" stroke="#1c1c1c" stroke-width="0.784"/>
<ellipse cx="816.8" cy="465.7" rx="23.6" ry="37.5" transform="rotate(30 816.8 465.7)" fill="white" stroke="#1c1c1c" stroke-width="1.344"/>
<ellipse cx="817.8" cy="466.3" rx="22.0" ry="35.5" transform="rotate(30 817.8 466.3)" fill="white" stroke="#1c1c1c" stroke-width="0.8960000000000001"/>
<ellipse cx="820.3" cy="467.7" rx="17.6" ry="29.5" transform="rotate(30 820.3 467.7)" fill="white" stroke="#1c1c1c" stroke-width="1.12"/>
<ellipse cx="821.8" cy="468.6" rx="15.6" ry="27.0" transform="rotate(30 821.8 468.6)" fill="white" stroke="#1c1c1c" stroke-width="2.4640000000000004"/>
<ellipse cx="823.8" cy="469.7" rx="12.6" ry="22.5" transform="rotate(30 823.8 469.7)" fill="white" stroke="#1c1c1c" stroke-width="1.0080000000000002"/>
<ellipse cx="825.3" cy="470.6" rx="11.0" ry="20.0" transform="rotate(30 825.3 470.6)" fill="white" stroke="#1c1c1c" stroke-width="2.0160000000000005"/>
<ellipse cx="827.3" cy="471.7" rx="10.4" ry="18.0" transform="rotate(30 827.3 471.7)" fill="white" stroke="#1c1c1c" stroke-width="1.0080000000000002"/>
<ellipse cx="829.3" cy="472.9" rx="8.6" ry="15.0" transform="rotate(30 829.3 472.9)" fill="white" stroke="#1c1c1c" stroke-width="1.344"/>
<ellipse cx="830.8" cy="473.7" rx="7.2" ry="12.5" transform="rotate(30 830.8 473.7)" fill="white" stroke="#1c1c1c" stroke-width="1.12"/>
<ellipse cx="831.8" cy="474.3" rx="5.8" ry="10.5" transform="rotate(30 831.8 474.3)" fill="white" stroke="#1c1c1c" stroke-width="1.7920000000000003"/>
<path d="M831.0,473.0 L845.0,480.9" fill="none" stroke="#1c1c1c" stroke-width="1.12" />
<ellipse cx="851.5" cy="482.5" rx="9.4" ry="13.6" transform="rotate(30 851.5 482.5)" fill="white" stroke="#1c1c1c" stroke-width="1.12"/>
<ellipse cx="853.2" cy="483.5" rx="9.4" ry="13.6" transform="rotate(30 853.2 483.5)" fill="white" stroke="#1c1c1c" stroke-width="1.344"/>
<ellipse cx="854.0" cy="484.0" rx="4.6" ry="7.2" transform="rotate(30 854.0 484.0)" fill="white" stroke="#1c1c1c" stroke-width="1.7920000000000003"/>
<ellipse cx="854.7" cy="484.4" rx="3.2" ry="5.4" transform="rotate(30 854.7 484.4)" fill="white" stroke="#1c1c1c" stroke-width="0.8960000000000001"/>
<path d="M855.0,485.5 L900.0,511.0" fill="none" stroke="#1c1c1c" stroke-width="1.12" />
<path d="M900.0,511.0 L927.0,528.0" fill="none" stroke="#1c1c1c" stroke-width="1.12" />
<path d="M641.0,429.3 L647.5,425.5" fill="none" stroke="#1c1c1c" stroke-width="1.12" />
<path d="M664.0,415.9 L675.0,409.5" fill="none" stroke="#1c1c1c" stroke-width="1.12" />
<path d="M688.0,401.9 L701.0,394.4" fill="none" stroke="#1c1c1c" stroke-width="1.12" />
<path d="M718.0,384.5 L744.0,369.4" fill="none" stroke="#1c1c1c" stroke-width="1.12" />
<path d="M757.0,361.8 L759.0,360.7" fill="none" stroke="#1c1c1c" stroke-width="1.12" />
<path d="M771.5,353.4 L784.0,346.1" fill="none" stroke="#1c1c1c" stroke-width="1.12" />
<path d="M818.0,326.4 L833.5,317.3" fill="none" stroke="#1c1c1c" stroke-width="1.12" />
<path d="M841.5,312.7 L846.5,309.8" fill="none" stroke="#1c1c1c" stroke-width="1.12" />
<path d="M859.0,302.5 L863.0,300.2" fill="none" stroke="#1c1c1c" stroke-width="1.12" />
<path d="M876.0,292.6 L885.5,287.1" fill="none" stroke="#1c1c1c" stroke-width="1.12" />
<path d="M895.0,281.6 L912.0,271.7" fill="none" stroke="#1c1c1c" stroke-width="1.12" />
<ellipse cx="658.8" cy="419.0" rx="7.4" ry="11.5" transform="rotate(-30 658.8 419.0)" fill="white" stroke="#1c1c1c" stroke-width="1.12"/>
<path d="M641.8,415.5 L653.0,409.0 L664.5,429.0 L653.2,435.5 Z" fill="white" stroke="none" stroke-width="1.12" />
<path d="M641.8,415.5 L653.0,409.0" fill="none" stroke="#1c1c1c" stroke-width="1.12" />
<path d="M653.2,435.5 L664.5,429.0" fill="none" stroke="#1c1c1c" stroke-width="1.12" />
<ellipse cx="647.5" cy="425.5" rx="7.4" ry="11.5" transform="rotate(-30 647.5 425.5)" fill="white" stroke="#1c1c1c" stroke-width="1.344"/>
<ellipse cx="648.1" cy="425.2" rx="5.6" ry="9.2" transform="rotate(-30 648.1 425.2)" fill="white" stroke="#1c1c1c" stroke-width="1.12"/>
<clipPath id="c65"><ellipse cx="648.1" cy="425.2" rx="5.6" ry="9.2" transform="rotate(-30 648.1 425.2)"/></clipPath><g clip-path="url(#c65)">
<ellipse cx="651.5" cy="423.2" rx="5.6" ry="9.2" transform="rotate(-30 651.5 423.2)" fill="none" stroke="#1c1c1c" stroke-width="1.0080000000000002"/>
</g>
<path d="M641.0,429.3 L648.0,425.2" fill="none" stroke="#1c1c1c" stroke-width="1.12" />
<ellipse cx="683.1" cy="404.8" rx="5.6" ry="8.6" transform="rotate(-30 683.1 404.8)" fill="white" stroke="#1c1c1c" stroke-width="1.12"/>
<path d="M675.7,399.2 L678.8,397.4 L687.4,412.2 L684.3,414.0 Z" fill="white" stroke="none" stroke-width="1.12" />
<path d="M675.7,399.2 L678.8,397.4" fill="none" stroke="#1c1c1c" stroke-width="1.12" />
<path d="M684.3,414.0 L687.4,412.2" fill="none" stroke="#1c1c1c" stroke-width="1.12" />
<ellipse cx="680.0" cy="406.6" rx="5.6" ry="8.6" transform="rotate(-30 680.0 406.6)" fill="white" stroke="#1c1c1c" stroke-width="1.344"/>
<ellipse cx="680.5" cy="406.3" rx="4.2" ry="6.8" transform="rotate(-30 680.5 406.3)" fill="white" stroke="#1c1c1c" stroke-width="1.0080000000000002"/>
<path d="M704,378 L699,379.5 Q696,381.5 696.5,385 Q698,389 702,389.5 L707,389 Z" fill="white" stroke="#1c1c1c" stroke-width="1.12" />
<ellipse cx="700.6" cy="384.2" rx="2.2" ry="3.4" transform="rotate(-30 700.6 384.2)" fill="white" stroke="#1c1c1c" stroke-width="1.12"/>
<ellipse cx="701.2" cy="383.9" rx="1.3" ry="2.2" transform="rotate(-30 701.2 383.9)" fill="white" stroke="#1c1c1c" stroke-width="0.8960000000000001"/>
<path d="M729,382 L734,383.5 Q737.5,386 737,390 Q735.5,394 731,394 L727,393 Z" fill="white" stroke="#1c1c1c" stroke-width="1.12" />
<ellipse cx="732.5" cy="388.7" rx="2.2" ry="3.4" transform="rotate(-30 732.5 388.7)" fill="white" stroke="#1c1c1c" stroke-width="1.12"/>
<ellipse cx="733.1" cy="388.4" rx="1.3" ry="2.2" transform="rotate(-30 733.1 388.4)" fill="white" stroke="#1c1c1c" stroke-width="0.8960000000000001"/>
<ellipse cx="720.1" cy="383.5" rx="12.6" ry="19.5" transform="rotate(-30 720.1 383.5)" fill="white" stroke="#1c1c1c" stroke-width="1.12"/>
<ellipse cx="717.5" cy="385.0" rx="12.6" ry="19.5" transform="rotate(-30 717.5 385.0)" fill="white" stroke="#1c1c1c" stroke-width="1.344"/>
<ellipse cx="718.3" cy="384.6" rx="9.6" ry="15.5" transform="rotate(-30 718.3 384.6)" fill="white" stroke="#1c1c1c" stroke-width="1.12"/>
<clipPath id="c68"><ellipse cx="718.3" cy="384.6" rx="9.6" ry="15.5" transform="rotate(-30 718.3 384.6)"/></clipPath><g clip-path="url(#c68)">
<ellipse cx="721.1" cy="383.0" rx="9.6" ry="15.5" transform="rotate(-30 721.1 383.0)" fill="none" stroke="#1c1c1c" stroke-width="1.0080000000000002"/>
</g>
<path d="M703.0,393.2 L719.0,383.9" fill="none" stroke="#1c1c1c" stroke-width="1.12" />
<path d="M717.5,420.0 L724.0,416.2" fill="none" stroke="#2a2a2a" stroke-width="3.136" />
<ellipse cx="715.5" cy="421.2" rx="3.0" ry="4.6" transform="rotate(-30 715.5 421.2)" fill="white" stroke="#1c1c1c" stroke-width="1.12"/>
<ellipse cx="716.5" cy="420.6" rx="2.0" ry="3.4" transform="rotate(-30 716.5 420.6)" fill="white" stroke="#1c1c1c" stroke-width="0.8960000000000001"/>
<path d="M713.3,423.2 L718.0,418.2" fill="none" stroke="#1c1c1c" stroke-width="0.672" />
<path d="M731.0,426.6 L737.5,422.8" fill="none" stroke="#2a2a2a" stroke-width="3.136" />
<ellipse cx="729.0" cy="427.8" rx="3.0" ry="4.6" transform="rotate(-30 729.0 427.8)" fill="white" stroke="#1c1c1c" stroke-width="1.12"/>
<ellipse cx="730.0" cy="427.2" rx="2.0" ry="3.4" transform="rotate(-30 730.0 427.2)" fill="white" stroke="#1c1c1c" stroke-width="0.8960000000000001"/>
<path d="M726.8,429.8 L731.5,424.8" fill="none" stroke="#1c1c1c" stroke-width="0.672" />
<ellipse cx="747.7" cy="368.0" rx="10.4" ry="16.5" transform="rotate(-30 747.7 368.0)" fill="white" stroke="#1c1c1c" stroke-width="1.12"/>
<path d="M734.2,356.7 L739.4,353.7 L755.9,382.3 L750.8,385.3 Z" fill="white" stroke="none" stroke-width="1.12" />
<path d="M734.2,356.7 L739.4,353.7" fill="none" stroke="#1c1c1c" stroke-width="1.12" />
<path d="M750.8,385.3 L755.9,382.3" fill="none" stroke="#1c1c1c" stroke-width="1.12" />
<ellipse cx="742.5" cy="371.0" rx="10.4" ry="16.5" transform="rotate(-30 742.5 371.0)" fill="white" stroke="#1c1c1c" stroke-width="1.344"/>
<ellipse cx="742.9" cy="370.8" rx="8.4" ry="13.6" transform="rotate(-30 742.9 370.8)" fill="white" stroke="#1c1c1c" stroke-width="1.0080000000000002"/>
<ellipse cx="743.2" cy="370.6" rx="6.8" ry="11.2" transform="rotate(-30 743.2 370.6)" fill="white" stroke="#1c1c1c" stroke-width="1.6800000000000002"/>
<ellipse cx="743.5" cy="370.4" rx="4.8" ry="8.2" transform="rotate(-30 743.5 370.4)" fill="white" stroke="#1c1c1c" stroke-width="1.0080000000000002"/>
<ellipse cx="743.7" cy="370.3" rx="3.1" ry="5.4" transform="rotate(-30 743.7 370.3)" fill="white" stroke="#1c1c1c" stroke-width="1.12"/>
<path d="M730.0,377.5 L743.5,369.7" fill="none" stroke="#1c1c1c" stroke-width="1.12" />
<ellipse cx="765.0" cy="357.5" rx="6.4" ry="9.6" transform="rotate(-30 765.0 357.5)" fill="white" stroke="#1c1c1c" stroke-width="1.12"/>
<ellipse cx="765.0" cy="357.5" rx="4.4" ry="7.0" transform="rotate(-30 765.0 357.5)" fill="white" stroke="#1c1c1c" stroke-width="1.0080000000000002"/>
<circle cx="767.5" cy="345.5" r="0.7" fill="#2a2a2a" stroke="#1c1c1c" stroke-width="1.12"/>
<path d="M781.2,340.0 L802.0,328.0 L809.2,340.4 L788.4,352.4 Z" fill="white" stroke="#1c1c1c" stroke-width="1.12" />
<path d="M782.1,339.5 A4.5 7.2 -30 0 1 789.3,351.9" fill="none" stroke="#555" stroke-width="0.7"/>
<path d="M783.2,338.8 A4.5 7.2 -30 0 1 790.4,351.3" fill="none" stroke="#555" stroke-width="0.7"/>
<path d="M784.3,338.2 A4.5 7.2 -30 0 1 791.5,350.6" fill="none" stroke="#555" stroke-width="0.7"/>
<path d="M785.4,337.5 A4.5 7.2 -30 0 1 792.6,350.0" fill="none" stroke="#555" stroke-width="0.7"/>
<path d="M786.6,336.9 A4.5 7.2 -30 0 1 793.8,349.3" fill="none" stroke="#555" stroke-width="0.7"/>
<path d="M787.7,336.2 A4.5 7.2 -30 0 1 794.9,348.7" fill="none" stroke="#555" stroke-width="0.7"/>
<path d="M792.5,333.5 A4.5 7.2 -30 0 1 799.7,345.9" fill="none" stroke="#1c1c1c" stroke-width="1.4"/>
<path d="M794.6,332.2 A4.5 7.2 -30 0 1 801.8,344.7" fill="none" stroke="#1c1c1c" stroke-width="0.8"/>
<ellipse cx="784.8" cy="346.2" rx="4.5" ry="7.2" transform="rotate(-30 784.8 346.2)" fill="white" stroke="#1c1c1c" stroke-width="1.344"/>
<ellipse cx="785.2" cy="346.0" rx="2.8" ry="4.8" transform="rotate(-30 785.2 346.0)" fill="white" stroke="#1c1c1c" stroke-width="1.0080000000000002"/>
<path d="M805.5,328.5 L807,322.5 L813,318 L820.5,314.8 Q824,314 826,317 Q831.5,323 830.5,330 Q829,336.5 822,339.5 Q817,340.5 813.5,339 L809.5,340.5 Z" fill="white" stroke="#1c1c1c" stroke-width="1.2320000000000002" />
<path d="M811,320 Q813.5,328 812.5,338.5 M814.5,317.5 Q818,327 816,339.5" fill="none" stroke="#1c1c1c" stroke-width="1.12" />
<path d="M817,316 Q820.5,317 820,322 L819,338 M820.5,315 Q824,320 822,337" fill="none" stroke="#1c1c1c" stroke-width="1.4560000000000002" />
<path d="M822.5,315.5 Q828.5,322 825.5,337.5" fill="none" stroke="#1c1c1c" stroke-width="1.0080000000000002" />
<path d="M807,322.5 Q809.5,326 809.5,333" fill="none" stroke="#1c1c1c" stroke-width="0.8960000000000001" />
<ellipse cx="837.7" cy="316.0" rx="3.8" ry="5.6" transform="rotate(-30 837.7 316.0)" fill="white" stroke="#1c1c1c" stroke-width="1.4560000000000002"/>
<ellipse cx="854.6" cy="305.3" rx="6.0" ry="8.2" transform="rotate(-30 854.6 305.3)" fill="white" stroke="#1c1c1c" stroke-width="1.12"/>
<ellipse cx="852.3" cy="306.6" rx="6.0" ry="8.2" transform="rotate(-30 852.3 306.6)" fill="white" stroke="#1c1c1c" stroke-width="1.344"/>
<ellipse cx="852.6" cy="306.4" rx="4.2" ry="6.0" transform="rotate(-30 852.6 306.4)" fill="white" stroke="#1c1c1c" stroke-width="1.7920000000000003"/>
<ellipse cx="852.8" cy="306.3" rx="2.2" ry="3.4" transform="rotate(-30 852.8 306.3)" fill="white" stroke="#1c1c1c" stroke-width="0.8960000000000001"/>
<ellipse cx="869.5" cy="296.2" rx="6.6" ry="9.6" transform="rotate(-30 869.5 296.2)" fill="white" stroke="#1c1c1c" stroke-width="1.12"/>
<ellipse cx="869.5" cy="296.2" rx="4.6" ry="7.0" transform="rotate(-30 869.5 296.2)" fill="white" stroke="#1c1c1c" stroke-width="1.0080000000000002"/>
<ellipse cx="890.6" cy="284.6" rx="5.4" ry="8.2" transform="rotate(-30 890.6 284.6)" fill="#333" stroke="#1c1c1c" stroke-width="1.344"/>
<ellipse cx="891.0" cy="284.4" rx="2.8" ry="4.6" transform="rotate(-30 891.0 284.4)" fill="#aaa" stroke="#1c1c1c" stroke-width="0.784"/>
<ellipse cx="891.2" cy="284.3" rx="1.5" ry="2.6" transform="rotate(-30 891.2 284.3)" fill="white" stroke="#1c1c1c" stroke-width="0.784"/>
<path d="M895.0,281.6 L912.0,271.7" fill="none" stroke="#1c1c1c" stroke-width="1.12" />
<path d="M809.5,583.0 C805.0,595.0 801.2,610.0 792.5,620.0 C786.2,627.5 778.8,636.2 771.2,641.2 C763.0,644.5 759.5,656.2 768.0,661.0 L772.0,663.0 L783.8,647.0 C795.0,632.5 807.5,617.5 815.0,605.0 C818.0,598.0 820.5,592.0 825.0,587.0 Z" fill="white" stroke="#1c1c1c" stroke-width="1.2320000000000002" />
<path d="M795.5,543.8 L819.0,561.5 L805.5,583.5 L785.5,577.0 Z" fill="white" stroke="#1c1c1c" stroke-width="0.0" />
<path d="M795.5,543.8 C784.5,542.0 774.0,561.2 785.5,577.0 L805.5,583.5 L819.0,561.5 Z" fill="white" stroke="#1c1c1c" stroke-width="0.0" />
<path d="M795.5,543.8 C784.5,542.0 774.0,561.2 785.5,577.0 " fill="none" stroke="#1c1c1c" stroke-width="1.2320000000000002" />
<path d="M797.5,545.2 C788.0,545.0 779.0,562.0 788.2,577.8 " fill="none" stroke="#1c1c1c" stroke-width="0.8960000000000001" />
<path d="M795.5,543.8 L819.0,561.5 " fill="none" stroke="#1c1c1c" stroke-width="1.12" />
<path d="M785.5,577.0 L805.5,583.5 " fill="none" stroke="#1c1c1c" stroke-width="1.12" />
<path d="M810.0,554.0 C805.0,563.8 802.0,573.8 804.0,582.5 " fill="none" stroke="#1c1c1c" stroke-width="1.0080000000000002" />
<path d="M812.7,556.4 C808.0,563.8 805.0,573.8 805.5,583.1 " fill="none" stroke="#1c1c1c" stroke-width="1.0080000000000002" />
<path d="M815.4,558.8 C811.0,563.8 808.0,573.8 807.0,583.7 " fill="none" stroke="#1c1c1c" stroke-width="1.0080000000000002" />
<circle cx="823.0" cy="577.0" r="9.6" fill="white" stroke="#1c1c1c" stroke-width="1.12"/>
<path d="M809.5,583.0 C812.5,585.0 817.5,587.5 825.0,587.0 " fill="none" stroke="#1c1c1c" stroke-width="0.0" />
<path d="M809.5,583.0 C805.0,595.0 801.2,610.0 792.5,620.0 C786.2,627.5 778.8,636.2 771.2,641.2 " fill="none" stroke="#1c1c1c" stroke-width="1.2320000000000002" />
<path d="M825.0,587.0 C820.5,592.0 818.0,598.0 815.0,605.0 C807.5,617.5 795.0,632.5 783.8,647.0 " fill="none" stroke="#1c1c1c" stroke-width="1.12" />
<path d="M773.0,643.0 C766.2,647.0 764.5,655.0 770.0,660.0 " fill="none" stroke="#1c1c1c" stroke-width="0.8960000000000001" />
<path d="M774.5,647.0 L781.2,648.0 C790.0,655.0 802.5,659.5 816.2,660.8 C830.0,663.8 840.0,672.5 839.5,685.0 C838.8,696.2 830.0,703.8 818.8,703.8 C807.5,702.5 800.0,693.8 795.5,687.5 C790.0,680.0 781.2,672.5 774.5,667.0 L770.5,663.0 Z" fill="white" stroke="#1c1c1c" stroke-width="1.2320000000000002" />
<path d="M774.5,647.0 L770.5,663.0 " fill="none" stroke="#1c1c1c" stroke-width="1.12" />
<path d="M777.5,647.5 L773.0,665.0 " fill="none" stroke="#1c1c1c" stroke-width="1.0080000000000002" />
<path d="M781.2,648.0 L776.5,668.5 " fill="none" stroke="#1c1c1c" stroke-width="1.0080000000000002" />
<ellipse cx="828.8" cy="688.0" rx="11" ry="14" transform="rotate(25 828.8 688.0)" fill="white" stroke="#1c1c1c" stroke-width="1.0"/>
<circle cx="823.0" cy="690.2" r="1.5" fill="#2a2a2a" stroke="#1c1c1c" stroke-width="0.672"/>
<circle cx="834.5" cy="686.2" r="1.5" fill="#2a2a2a" stroke="#1c1c1c" stroke-width="0.672"/>
<path d="M986.2,608.8 C982.5,617.5 975.0,627.5 960.0,640.0 L951.2,643.0 C943.0,646.2 943.0,657.5 950.5,660.0 L956.2,660.0 L965.5,647.0 C977.5,637.5 986.2,627.5 991.2,620.0 C1000.0,612.5 1012.5,608.8 1025.0,606.2 C1040.0,602.5 1057.5,595.0 1073.0,588.8 L1075.0,571.2 L1066.2,575.5 C1052.5,583.8 1032.5,588.0 1017.5,588.8 C1007.5,588.5 1000.0,589.0 995.0,590.5 Z" fill="white" stroke="#1c1c1c" stroke-width="1.12" />
<path d="M987.5,610.0 C991.2,600.0 996.2,594.5 1005.0,592.5 C1025.0,591.2 1047.5,586.2 1067.0,578.0 " fill="none" stroke="#1c1c1c" stroke-width="0.8960000000000001" />
<path d="M965.5,568.0 L994.5,585.0 L975.5,610.5 L955.5,603.0 Z" fill="white" stroke="#1c1c1c" stroke-width="0.0" />
<path d="M965.5,568.0 C953.8,565.5 942.5,586.2 955.5,603.0 L975.5,610.5 L994.5,585.0 Z" fill="white" stroke="#1c1c1c" stroke-width="0.0" />
<path d="M965.5,568.0 C953.8,565.5 942.5,586.2 955.5,603.0 " fill="none" stroke="#1c1c1c" stroke-width="1.2320000000000002" />
<path d="M967.8,569.5 C957.5,568.8 947.5,587.0 958.2,604.0 " fill="none" stroke="#1c1c1c" stroke-width="0.8960000000000001" />
<path d="M965.5,568.0 L994.5,585.0 " fill="none" stroke="#1c1c1c" stroke-width="1.12" />
<path d="M955.5,603.0 L975.5,610.5 " fill="none" stroke="#1c1c1c" stroke-width="1.12" />
<path d="M983.8,579.5 C978.0,590.0 974.5,601.2 976.5,610.5 " fill="none" stroke="#1c1c1c" stroke-width="1.12" />
<path d="M986.7,581.5 C981.2,590.0 977.8,601.2 978.5,611.1 " fill="none" stroke="#1c1c1c" stroke-width="1.12" />
<path d="M989.6,583.4 C984.5,590.0 981.0,601.2 980.4,611.8 " fill="none" stroke="#1c1c1c" stroke-width="1.12" />
<path d="M1075.0,571.2 L1083.8,574.5 C1092.5,577.5 1102.5,577.0 1111.2,579.5 C1122.5,583.8 1127.5,592.5 1125.0,601.2 C1121.2,612.5 1110.0,616.2 1100.0,611.2 C1092.5,606.2 1086.2,598.8 1080.5,596.2 L1072.0,590.5 Z" fill="white" stroke="#1c1c1c" stroke-width="1.2320000000000002" />
<path d="M1078.0,572.5 L1074.5,592.5 " fill="none" stroke="#1c1c1c" stroke-width="1.0080000000000002" />
<path d="M1081.0,573.5 L1077.5,594.5 " fill="none" stroke="#1c1c1c" stroke-width="1.0080000000000002" />
<ellipse cx="1116.0" cy="600.5" rx="9" ry="11.5" transform="rotate(25 1116.0 600.5)" fill="white" stroke="#1c1c1c" stroke-width="1.0"/>
<circle cx="1111.5" cy="602.8" r="1.5" fill="#2a2a2a" stroke="#1c1c1c" stroke-width="0.672"/>
<circle cx="1120.8" cy="598.2" r="1.5" fill="#2a2a2a" stroke="#1c1c1c" stroke-width="0.672"/>
<path d="M953.8,644.5 C947.5,648.0 947.5,655.5 953.0,659.2 " fill="none" stroke="#1c1c1c" stroke-width="0.8960000000000001" />
<path d="M958.0,643.8 L965.5,645.5 C975.0,648.8 985.0,647.5 993.8,650.5 C1003.8,654.5 1008.8,662.5 1007.0,671.2 C1004.5,681.2 995.0,686.2 985.0,682.5 C976.2,677.5 971.2,670.0 965.5,666.2 L955.5,659.5 Z" fill="white" stroke="#1c1c1c" stroke-width="1.2320000000000002" />
<path d="M961.0,644.5 L958.0,661.2 " fill="none" stroke="#1c1c1c" stroke-width="1.0080000000000002" />
<path d="M964.0,645.2 L961.0,663.0 " fill="none" stroke="#1c1c1c" stroke-width="1.0080000000000002" />
<ellipse cx="998.0" cy="670.5" rx="9" ry="11.5" transform="rotate(25 998.0 670.5)" fill="white" stroke="#1c1c1c" stroke-width="1.0"/>
<circle cx="993.5" cy="672.8" r="1.5" fill="#2a2a2a" stroke="#1c1c1c" stroke-width="0.672"/>
<circle cx="1002.8" cy="668.5" r="1.5" fill="#2a2a2a" stroke="#1c1c1c" stroke-width="0.672"/>
<path d="M342.5,480.0 L362.5,470.0" fill="none" stroke="#1c1c1c" stroke-width="1.12" />
<ellipse cx="341.0" cy="481.2" rx="2.6" ry="3.8" transform="rotate(-30 341.0 481.2)" fill="#777" stroke="#1c1c1c" stroke-width="1.568"/>
<ellipse cx="367.5" cy="466.8" rx="4.0" ry="5.0" transform="rotate(-30 367.5 466.8)" fill="white" stroke="#1c1c1c" stroke-width="1.12"/>
<path d="M364.0,463.0 L366.5,461.8" fill="none" stroke="#1c1c1c" stroke-width="1.12" />
<ellipse cx="365.5" cy="468.0" rx="4.0" ry="5.0" transform="rotate(-30 365.5 468.0)" fill="white" stroke="#1c1c1c" stroke-width="1.344"/>
<ellipse cx="365.8" cy="467.8" rx="2.2" ry="3.0" transform="rotate(-30 365.8 467.8)" fill="white" stroke="#1c1c1c" stroke-width="1.0080000000000002"/>
<path d="M370.0,470.0 L384.0,477.0" fill="none" stroke="#1c1c1c" stroke-width="1.12" />
<path d="M379,485 Q379.5,479 384,477 Q389,474.5 393,476 L400,480 L408,481 L416,475 Q420,472.5 424,473.5 Q429,475 431,478 Q433.5,482 432.5,486 Q432,491 429,494 Q426,497 422,499 L414,502 L407,502 L399,497 L394,499 Q390,499.5 386,497.5 Q381,495 380,492 Z" fill="white" stroke="#1c1c1c" stroke-width="1.344" />
<path d="M380.5,488 Q382,494 388,496 Q392,497 396,495.5" fill="none" stroke="#1c1c1c" stroke-width="0.8960000000000001" />
<path d="M389,481 Q390,478.5 393,479 L402,482 L408,482.5 L402,487 L394,488.5 Q390,488.5 389,486 Z" fill="none" stroke="#1c1c1c" stroke-width="1.12" />
<path d="M391.5,482.5 L401,484.5" fill="none" stroke="#1c1c1c" stroke-width="0.8960000000000001" />
<path d="M408,481 L416,476 L424,475 Q429,476.5 430,479 L431,482 L420,486 L408,490 L400,495" fill="none" stroke="#1c1c1c" stroke-width="1.0080000000000002" />
<path d="M404,493 L418,489 M407,495 L416,501 M411,494.5 L421,499 M418,489 L410,495" fill="none" stroke="#1c1c1c" stroke-width="1.0080000000000002" />
<path d="M385.0,497.5 L375.0,510.0" fill="none" stroke="#1c1c1c" stroke-width="1.12" />
<path d="M380.6,502.0 L374.9,510.0" fill="none" stroke="#1c1c1c" stroke-width="1.12" />
<path d="M369.1,518.0 L361.7,528.5" fill="none" stroke="#1c1c1c" stroke-width="1.12" />
<path d="M355.6,537.0 L350.3,544.5" fill="none" stroke="#1c1c1c" stroke-width="1.12" />
<path d="M343.9,553.5 L338.5,561.0" fill="none" stroke="#1c1c1c" stroke-width="1.12" />
<path d="M332.1,570.0 L327.8,576.0" fill="none" stroke="#1c1c1c" stroke-width="1.12" />
<path d="M324.6,580.5 L319.3,588.0" fill="none" stroke="#1c1c1c" stroke-width="1.12" />
<path d="M310.7,600.0 L305.0,608.0" fill="none" stroke="#1c1c1c" stroke-width="1.12" />
<path d="M290.8,628.0 L287.2,633.0" fill="none" stroke="#1c1c1c" stroke-width="1.12" />
<path d="M278.7,645.0 L274.4,651.0" fill="none" stroke="#1c1c1c" stroke-width="1.12" />
<path d="M267.3,661.0 L260.5,670.5" fill="none" stroke="#1c1c1c" stroke-width="1.12" />
<path d="M253.4,680.5 L249.1,686.5" fill="none" stroke="#1c1c1c" stroke-width="1.12" />
<path d="M242.7,695.5 L237.0,703.5" fill="none" stroke="#1c1c1c" stroke-width="1.12" />
<path d="M232.0,710.5 L228.1,716.0" fill="none" stroke="#1c1c1c" stroke-width="1.12" />
<ellipse cx="371.5" cy="514.3" rx="5.6" ry="4.8" transform="rotate(25 371.5 514.3)" fill="white" stroke="#1c1c1c" stroke-width="1.0"/>
<ellipse cx="371.5" cy="514.3" rx="2.4" ry="1.9" transform="rotate(25 371.5 514.3)" fill="white" stroke="#1c1c1c" stroke-width="0.8"/>
<ellipse cx="358.5" cy="532.5" rx="5.6" ry="4.8" transform="rotate(25 358.5 532.5)" fill="#222" stroke="#1c1c1c" stroke-width="1.0"/>
<ellipse cx="358.5" cy="532.5" rx="2.7" ry="2.2" transform="rotate(25 358.5 532.5)" fill="#eee" stroke="#1c1c1c" stroke-width="0.8"/>
<ellipse cx="347.5" cy="548.8" rx="5.8" ry="5.0" transform="rotate(25 347.5 548.8)" fill="white" stroke="#1c1c1c" stroke-width="1.2"/>
<ellipse cx="347.5" cy="548.8" rx="3.6" ry="2.9" transform="rotate(25 347.5 548.8)" fill="white" stroke="#1c1c1c" stroke-width="1.0"/>
<ellipse cx="347.8" cy="549" rx="2.4" ry="2.1" transform="rotate(25 347.8 549)" fill="#999" stroke="#1c1c1c" stroke-width="1.0"/>
<ellipse cx="347.8" cy="549" rx="1.2" ry="1.0" transform="rotate(25 347.8 549)" fill="white" stroke="#1c1c1c" stroke-width="0.8"/>
<ellipse cx="335" cy="565.5" rx="6" ry="5.2" transform="rotate(25 335 565.5)" fill="white" stroke="#1c1c1c" stroke-width="1.3"/>
<ellipse cx="335" cy="565.5" rx="3.8" ry="3.0" transform="rotate(25 335 565.5)" fill="white" stroke="#1c1c1c" stroke-width="1.0"/>
<ellipse cx="335.3" cy="566" rx="2.6" ry="2.2" transform="rotate(25 335.3 566)" fill="#888" stroke="#1c1c1c" stroke-width="1.0"/>
<ellipse cx="335.3" cy="566" rx="1.2" ry="1.0" transform="rotate(25 335.3 566)" fill="white" stroke="#1c1c1c" stroke-width="0.8"/>
<ellipse cx="326.3" cy="578.2" rx="2.8" ry="2.4" transform="rotate(25 326.3 578.2)" fill="white" stroke="#1c1c1c" stroke-width="1.2"/>
<ellipse cx="326.3" cy="578.2" rx="1.3" ry="1.0" transform="rotate(25 326.3 578.2)" fill="white" stroke="#1c1c1c" stroke-width="1.0"/>
<ellipse cx="314.6" cy="592.5" rx="6.6" ry="5.7" transform="rotate(25 314.6 592.5)" fill="white" stroke="#1c1c1c" stroke-width="1.3"/>
<ellipse cx="314.6" cy="592.5" rx="5.2" ry="4.2" transform="rotate(25 314.6 592.5)" fill="white" stroke="#1c1c1c" stroke-width="1.0"/>
<ellipse cx="315.3" cy="594.5" rx="6.6" ry="5.7" transform="rotate(25 315.3 594.5)" fill="white" stroke="#1c1c1c" stroke-width="1.0"/>
<ellipse cx="315.3" cy="594.5" rx="5.0" ry="4.0" transform="rotate(25 315.3 594.5)" fill="white" stroke="#1c1c1c" stroke-width="0.8"/>
<ellipse cx="297.5" cy="621" rx="10.5" ry="9.0" transform="rotate(25 297.5 621)" fill="white" stroke="#1c1c1c" stroke-width="1.0"/>
<ellipse cx="297.5" cy="621" rx="8.4" ry="6.7" transform="rotate(25 297.5 621)" fill="white" stroke="#1c1c1c" stroke-width="0.8"/>
<ellipse cx="298.2" cy="616.8" rx="10.5" ry="9.0" transform="rotate(25 298.2 616.8)" fill="white" stroke="#1c1c1c" stroke-width="1.5"/>
<ellipse cx="298.2" cy="616.8" rx="8" ry="6.4" transform="rotate(25 298.2 616.8)" fill="white" stroke="#1c1c1c" stroke-width="1.2"/>
<ellipse cx="298.4" cy="617.5" rx="7.4" ry="6.4" transform="rotate(25 298.4 617.5)" fill="white" stroke="#1c1c1c" stroke-width="0.9"/>
<ellipse cx="298.4" cy="617.5" rx="5.4" ry="4.3" transform="rotate(25 298.4 617.5)" fill="white" stroke="#1c1c1c" stroke-width="0.7"/>
<ellipse cx="284" cy="639.5" rx="7.6" ry="6.5" transform="rotate(25 284 639.5)" fill="white" stroke="#1c1c1c" stroke-width="1.6"/>
<ellipse cx="284" cy="639.5" rx="5.6" ry="4.5" transform="rotate(25 284 639.5)" fill="white" stroke="#1c1c1c" stroke-width="1.3"/>
<ellipse cx="284.4" cy="640.6" rx="7.2" ry="6.2" transform="rotate(25 284.4 640.6)" fill="white" stroke="#1c1c1c" stroke-width="0.8"/>
<ellipse cx="284.4" cy="640.6" rx="5" ry="4.0" transform="rotate(25 284.4 640.6)" fill="white" stroke="#1c1c1c" stroke-width="0.6"/>
<ellipse cx="271.3" cy="656.3" rx="5.8" ry="5.0" transform="rotate(25 271.3 656.3)" fill="white" stroke="#1c1c1c" stroke-width="1.8"/>
<ellipse cx="271.3" cy="656.3" rx="3.4" ry="2.7" transform="rotate(25 271.3 656.3)" fill="white" stroke="#1c1c1c" stroke-width="1.4"/>
<ellipse cx="258" cy="675.7" rx="6.2" ry="5.3" transform="rotate(25 258 675.7)" fill="white" stroke="#1c1c1c" stroke-width="1.0"/>
<ellipse cx="258" cy="675.7" rx="4.2" ry="3.4" transform="rotate(25 258 675.7)" fill="white" stroke="#1c1c1c" stroke-width="0.8"/>
<ellipse cx="258.2" cy="675.9" rx="2.6" ry="2.2" transform="rotate(25 258.2 675.9)" fill="#aaa" stroke="#1c1c1c" stroke-width="1.0"/>
<ellipse cx="258.2" cy="675.9" rx="1.4" ry="1.1" transform="rotate(25 258.2 675.9)" fill="white" stroke="#1c1c1c" stroke-width="0.8"/>
<ellipse cx="247" cy="691.2" rx="6" ry="5.2" transform="rotate(25 247 691.2)" fill="#1a1a1a" stroke="#1c1c1c" stroke-width="1.0"/>
<ellipse cx="247" cy="691.2" rx="2.8" ry="2.2" transform="rotate(25 247 691.2)" fill="#f4f4f4" stroke="#1c1c1c" stroke-width="0.8"/>
<ellipse cx="235.5" cy="707" rx="4.2" ry="3.6" transform="rotate(25 235.5 707)" fill="white" stroke="#1c1c1c" stroke-width="0.9"/>
<ellipse cx="235.5" cy="707" rx="2.2" ry="1.8" transform="rotate(25 235.5 707)" fill="white" stroke="#1c1c1c" stroke-width="0.7"/>
<path d="M219.5,722 Q217,714 222.5,711 Q229,708.5 234.5,712.5 Q238.5,716 236.5,722 L234.5,726.5 L235,731 L229,731 L229.5,727 Z" fill="white" stroke="#1c1c1c" stroke-width="1.2320000000000002" />
<ellipse cx="227.0" cy="717.5" rx="5.0" ry="7.0" transform="rotate(60 227.0 717.5)" fill="white" stroke="#1c1c1c" stroke-width="1.568"/>
<ellipse cx="227.3" cy="718.3" rx="3.0" ry="4.6" transform="rotate(60 227.3 718.3)" fill="#555" stroke="#1c1c1c" stroke-width="1.12"/>
<ellipse cx="227.5" cy="718.5" rx="1.5" ry="2.4" transform="rotate(60 227.5 718.5)" fill="#ddd" stroke="#1c1c1c" stroke-width="0.672"/>
<path d="M217.0,733.0 L224.5,722.0" fill="none" stroke="#1c1c1c" stroke-width="1.0080000000000002" />
<ellipse cx="217" cy="733" rx="4.2" ry="3.6" transform="rotate(25 217 733)" fill="#bbb" stroke="#1c1c1c" stroke-width="1.4"/>
<ellipse cx="217" cy="733" rx="2" ry="1.6" transform="rotate(25 217 733)" fill="white" stroke="#1c1c1c" stroke-width="1.1"/>
<path d="M204.5,752.0 L210.5,743.5" fill="none" stroke="#1c1c1c" stroke-width="3.3600000000000003" />
<path d="M204.8,751.5 L210.2,744.0" fill="none" stroke="white" stroke-width="1.7920000000000003" />
<ellipse cx="203.2" cy="754.0" rx="2.8" ry="4.4" transform="rotate(55 203.2 754.0)" fill="#ddd" stroke="#1c1c1c" stroke-width="1.7920000000000003"/>
<path d="M211.5,742.0 L214.5,737.5" fill="none" stroke="#1c1c1c" stroke-width="1.0080000000000002" />
<path d="M149.3,694.4 L151.3,714 Q154,728 160.2,739.4 Q167,752 177.5,760.7 Q188,770 200.3,775 Q208,778.5 214.6,778.8 Q220,778 222.1,774 Q224.5,770 225.5,762.7 L227.5,747.8 L231.5,731" fill="none" stroke="#1c1c1c" stroke-width="6.944000000000001" />
<path d="M149.3,694.4 L151.3,714 Q154,728 160.2,739.4 Q167,752 177.5,760.7 Q188,770 200.3,775 Q208,778.5 214.6,778.8 Q220,778 222.1,774 Q224.5,770 225.5,762.7 L227.5,747.8 L231.5,731" fill="none" stroke="white" stroke-width="4.704000000000001" />
<path d="M153.8,657.7 L165.6,645.8 Q171,643 177.5,643.9 Q183,645.5 184.5,649.8 Q186,654.5 184.5,659.7 Q182,666 177.5,669.6 L167.6,672.6 L155.7,677.5 L153.8,685.4 L154.8,691.4 L151.8,694.4 L145.8,693.4 L141.9,681.5 L141.9,674.6 L145.8,669.6 Z" fill="white" stroke="#1c1c1c" stroke-width="1.4560000000000002" />
<path d="M163.7,655.7 L175.5,648.8 Q180,648.5 181.9,651.8 Q183,656 181.1,661.7 Q178.5,666 174.6,668.6 L165.6,669.6 Q162.5,667 162.7,663.7 Z" fill="none" stroke="#1c1c1c" stroke-width="1.12" />
<path d="M156,659 L167,648 Q172,645.8 177,646.5" fill="none" stroke="#1c1c1c" stroke-width="0.8960000000000001" />
<path d="M147,671 Q152,672 155.5,677.5 M145.8,669.6 Q150,667.5 154,669" fill="none" stroke="#1c1c1c" stroke-width="1.0080000000000002" />
<circle cx="146.5" cy="673.0" r="1.6" fill="white" stroke="#1c1c1c" stroke-width="0.8960000000000001"/>
<path d="M146,682 L153.5,684 M147,688 L154.5,690" fill="none" stroke="#1c1c1c" stroke-width="0.8960000000000001" />
<path d="M168,652.5 L178,659.5 M166,657 L176.5,664" fill="none" stroke="#1c1c1c" stroke-width="0.8960000000000001" />
<ellipse cx="178.5" cy="661.7" rx="2.4" ry="3.2" transform="rotate(30 178.5 661.7)" fill="white" stroke="#1c1c1c" stroke-width="1.12"/>
<ellipse cx="178.8" cy="661.9" rx="1.1" ry="1.6" transform="rotate(30 178.8 661.9)" fill="white" stroke="#1c1c1c" stroke-width="0.8960000000000001"/>
<path d="M181.5,663.3 L193.0,669.0" fill="none" stroke="#1c1c1c" stroke-width="1.12" />
<path d="M199.0,672.0 L213.0,679.0" fill="none" stroke="#1c1c1c" stroke-width="1.12" />
<ellipse cx="195.8" cy="669.8" rx="4.0" ry="6.4" transform="rotate(30 195.8 669.8)" fill="white" stroke="#1c1c1c" stroke-width="1.4560000000000002"/>
<path d="M213,677 L216,676 L218,681 L215,682.5 Z" fill="white" stroke="#1c1c1c" stroke-width="1.0080000000000002" />
<ellipse cx="223.5" cy="681.0" rx="4.6" ry="5.6" transform="rotate(30 223.5 681.0)" fill="white" stroke="#1c1c1c" stroke-width="1.12"/>
<ellipse cx="222.6" cy="680.5" rx="4.6" ry="5.6" transform="rotate(30 222.6 680.5)" fill="white" stroke="#1c1c1c" stroke-width="1.2320000000000002"/>
<path d="M459.5,509.5 L517.0,516.0" fill="none" stroke="#1c1c1c" stroke-width="4.032000000000001" />
<path d="M460.5,509.6 L516.3,515.9" fill="none" stroke="white" stroke-width="2.24" />
<path d="M460.5,519 L457,510.5 Q457,508 460.5,508" fill="none" stroke="#1c1c1c" stroke-width="4.032000000000001" />
<path d="M460.5,519 L457,510.5 Q457,508 460.5,508 L463,508.3" fill="none" stroke="white" stroke-width="2.24" />
<circle cx="460.6" cy="519.0" r="1.7" fill="white" stroke="#1c1c1c" stroke-width="1.0080000000000002"/>
<path d="M517.5,516.0 L525.5,517.0" fill="none" stroke="#1c1c1c" stroke-width="1.12" />
<path d="M525.3,514 L530,510.5 L540.5,512 L542,515 L541.5,523 L536,525.5 L530,524.5 L526.5,520 Z" fill="white" stroke="#1c1c1c" stroke-width="1.2320000000000002" />
<path d="M530,510.5 L534,514.5 L533.5,524.8 M534,514.5 L542,515 M526.5,517 L533.8,518.5 M528.5,512.5 L530.5,523" fill="none" stroke="#1c1c1c" stroke-width="0.8960000000000001" />
<path d="M542.0,517.5 L547.0,518.0" fill="none" stroke="#1c1c1c" stroke-width="1.12" />
<path d="M547.0,517.0 L577.0,522.5" fill="none" stroke="#333" stroke-width="5.6000000000000005" />
<path d="M548.2,515.1 L549.3,519.5" fill="none" stroke="#bbb" stroke-width="0.56" />
<path d="M550.7,515.6 L551.8,520.0" fill="none" stroke="#bbb" stroke-width="0.56" />
<path d="M553.2,516.0 L554.3,520.4" fill="none" stroke="#bbb" stroke-width="0.56" />
<path d="M555.7,516.5 L556.8,520.9" fill="none" stroke="#bbb" stroke-width="0.56" />
<path d="M558.2,516.9 L559.3,521.3" fill="none" stroke="#bbb" stroke-width="0.56" />
<path d="M560.7,517.4 L561.8,521.8" fill="none" stroke="#bbb" stroke-width="0.56" />
<path d="M563.2,517.8 L564.3,522.2" fill="none" stroke="#bbb" stroke-width="0.56" />
<path d="M565.7,518.3 L566.8,522.7" fill="none" stroke="#bbb" stroke-width="0.56" />
<path d="M568.2,518.8 L569.3,523.2" fill="none" stroke="#bbb" stroke-width="0.56" />
<path d="M570.7,519.2 L571.8,523.6" fill="none" stroke="#bbb" stroke-width="0.56" />
<path d="M573.2,519.7 L574.3,524.1" fill="none" stroke="#bbb" stroke-width="0.56" />
<path d="M575.7,520.1 L576.8,524.5" fill="none" stroke="#bbb" stroke-width="0.56" />
<path d="M577.0,522.5 L582.0,523.3" fill="none" stroke="#1c1c1c" stroke-width="1.12" />
<path d="M581.3,516.7 L582,526 L590,529.3 L608.7,530 L614,526 L620.7,525.3 L627.3,522 L629.3,518 L627.3,516.7 L616.7,516.7 L612.7,518.7 L595.3,515.3 Z" fill="white" stroke="#1c1c1c" stroke-width="1.2320000000000002" />
<path d="M612.7,518.7 L609,526.5 L614,526 M616.7,516.7 L613.5,523 M620.7,525.3 L623,519.5 L629.3,518" fill="none" stroke="#1c1c1c" stroke-width="0.8960000000000001" />
<path d="M582.7,518.7 L587.3,519.5 L587.3,524.7 L582.7,524.0 Z" fill="none" stroke="#1c1c1c" stroke-width="1.0080000000000002" />
<ellipse cx="586.0" cy="512.3" rx="5.2" ry="6.2" transform="rotate(0 586.0 512.3)" fill="white" stroke="#1c1c1c" stroke-width="1.2320000000000002"/>
<path d="M581,515 L581.3,521 M591.5,515 L591.5,516" fill="none" stroke="#1c1c1c" stroke-width="1.0080000000000002" />
<circle cx="591.0" cy="514.8" r="2.2" fill="white" stroke="#1c1c1c" stroke-width="1.0080000000000002"/>
<circle cx="603.3" cy="525.3" r="3.6" fill="white" stroke="#1c1c1c" stroke-width="1.344"/>
<circle cx="603.8" cy="525.5" r="2.4" fill="white" stroke="#1c1c1c" stroke-width="0.784"/>
<path d="M547.3,490.0 L580.7,509.3" fill="none" stroke="#1c1c1c" stroke-width="1.12" />
<path d="M592.5,515.5 L620.5,532.5" fill="none" stroke="#1c1c1c" stroke-width="1.12" />
<path d="M621.0,531.5 L627.5,536.5" fill="none" stroke="#222" stroke-width="4.704000000000001" />
<path d="M628.0,537.0 L632.5,539.5" fill="none" stroke="#1c1c1c" stroke-width="1.12" />
<path d="M632.5,538 L636.5,537 L639.5,540 L639,544 L635,545 L632,542 Z" fill="white" stroke="#1c1c1c" stroke-width="1.12" />
<ellipse cx="634.2" cy="541.5" rx="2.2" ry="3.2" transform="rotate(-50 634.2 541.5)" fill="white" stroke="#1c1c1c" stroke-width="1.0080000000000002"/>
<ellipse cx="538.0" cy="425.0" rx="3.0" ry="4.8" transform="rotate(30 538.0 425.0)" fill="white" stroke="#1c1c1c" stroke-width="1.2320000000000002"/>
<ellipse cx="537.2" cy="424.6" rx="3.0" ry="4.8" transform="rotate(30 537.2 424.6)" fill="none" stroke="#1c1c1c" stroke-width="1.0080000000000002"/>
<path d="M539.0,425.3 L548.5,430.8" fill="none" stroke="#333" stroke-width="4.928000000000001" />
<path d="M540.8,424.0 L539.6,428.3" fill="none" stroke="#ccc" stroke-width="0.56" />
<path d="M542.6,425.1 L541.4,429.4" fill="none" stroke="#ccc" stroke-width="0.56" />
<path d="M544.4,426.1 L543.2,430.4" fill="none" stroke="#ccc" stroke-width="0.56" />
<path d="M546.2,427.1 L545.0,431.4" fill="none" stroke="#ccc" stroke-width="0.56" />
<path d="M548.0,428.2 L546.8,432.5" fill="none" stroke="#ccc" stroke-width="0.56" />
<path d="M549.0,430.5 L567.5,441.0" fill="none" stroke="#1c1c1c" stroke-width="1.12" />
<path d="M577,418 L584,421 Q589,426 591,432.5 Q594,441 594,450 Q593.5,458 591,464 L562.5,477.5 L559,474 L566,467.5 Q569.5,461 569.5,454 L560,449 L567.5,441 L580,431 Z" fill="white" stroke="#1c1c1c" stroke-width="1.344" />
<path d="M577,418 Q580.5,425 580,431 M584,421 Q589,432 588,443 Q587,454 582,462 L563.5,472" fill="none" stroke="#1c1c1c" stroke-width="0.8960000000000001" />
<path d="M569.5,454 Q580,450 588,443 M566,467.5 L569,470" fill="none" stroke="#1c1c1c" stroke-width="0.8960000000000001" />
</svg>
</body></html>
